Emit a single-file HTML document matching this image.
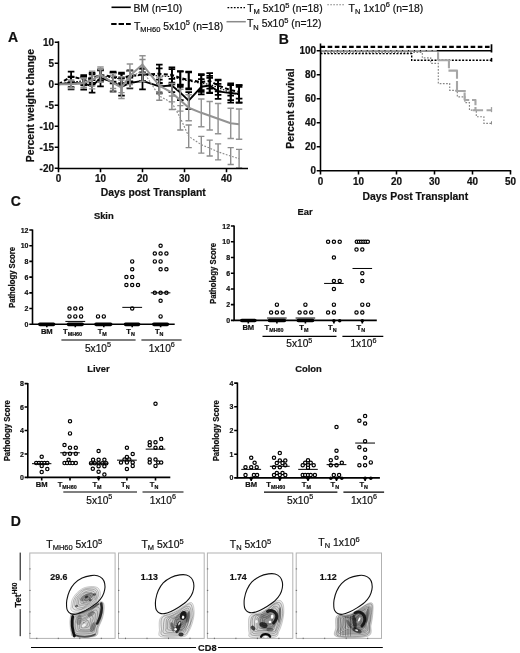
<!DOCTYPE html>
<html lang="en"><head><meta charset="utf-8"><title>Figure</title>
<style>html,body{margin:0;padding:0;background:#fff}body{width:520px;height:653px;overflow:hidden}svg{display:block;filter:blur(0.4px)}text{font-family:"Liberation Sans", Arial, sans-serif}</style>
</head><body>
<svg width="520" height="653" viewBox="0 0 520 653">
<defs><filter id="b1" x="-5%" y="-5%" width="110%" height="110%"><feGaussianBlur stdDeviation="0.35"/></filter><filter id="b2" x="-5%" y="-5%" width="110%" height="110%"><feGaussianBlur stdDeviation="0.7"/></filter></defs>
<rect width="520" height="653" fill="#fff"/>
<g id="legend">
<line x1="111.5" y1="7.3" x2="130.8" y2="7.3" stroke="#000" stroke-width="1.6"/>
<text x="0" y="0" font-size="10.4" text-anchor="start" fill="#111" stroke="#111" stroke-width="0.2" transform="translate(133.4 11.5) scale(1 1.06)" textLength="48.7" lengthAdjust="spacingAndGlyphs">BM (n=10)</text>
<line x1="111.2" y1="24" x2="130.8" y2="24" stroke="#000" stroke-width="2.2" stroke-dasharray="5.4 2"/>
<text x="0" y="0" font-size="10.4" text-anchor="start" fill="#111" stroke="#111" stroke-width="0.2" transform="translate(134 29.5) scale(1 1.06)">T<tspan font-size="7.5" dy="2">MH60</tspan><tspan dy="-2" font-size="0.1">&#8203;</tspan> 5x10<tspan font-size="7.5" dy="-4">5</tspan><tspan dy="4" font-size="0.1">&#8203;</tspan> (n=18)</text>
<line x1="227.5" y1="7.7" x2="245" y2="7.7" stroke="#000" stroke-width="1.3" stroke-dasharray="1.7 1.5"/>
<text x="0" y="0" font-size="10.4" text-anchor="start" fill="#111" stroke="#111" stroke-width="0.2" transform="translate(247.2 11.9) scale(1 1.06)">T<tspan font-size="7.5" dy="2">M</tspan><tspan dy="-2" font-size="0.1">&#8203;</tspan> 5x10<tspan font-size="7.5" dy="-4">5</tspan><tspan dy="4" font-size="0.1">&#8203;</tspan> (n=18)</text>
<line x1="226.5" y1="21.7" x2="245.8" y2="21.7" stroke="#8a8a8a" stroke-width="1.5"/>
<text x="0" y="0" font-size="10.4" text-anchor="start" fill="#111" stroke="#111" stroke-width="0.2" transform="translate(247 27.4) scale(1 1.06)">T<tspan font-size="7.5" dy="2">N</tspan><tspan dy="-2" font-size="0.1">&#8203;</tspan> 5x10<tspan font-size="7.5" dy="-4">5</tspan><tspan dy="4" font-size="0.1">&#8203;</tspan> (n=12)</text>
<line x1="327.3" y1="4.8" x2="344.4" y2="4.8" stroke="#858585" stroke-width="1.1" stroke-dasharray="1.6 1.4"/>
<text x="0" y="0" font-size="10.4" text-anchor="start" fill="#111" stroke="#111" stroke-width="0.2" transform="translate(348.6 11.7) scale(1 1.06)">T<tspan font-size="7.5" dy="2">N</tspan><tspan dy="-2" font-size="0.1">&#8203;</tspan> 1x10<tspan font-size="7.5" dy="-4">6</tspan><tspan dy="4" font-size="0.1">&#8203;</tspan> (n=18)</text>
</g>
<text x="0" y="0" font-size="14" font-weight="bold" text-anchor="start" fill="#111" stroke="#111" stroke-width="0.2" transform="translate(8 42.2) scale(1 1.06)">A</text>
<text x="0" y="0" font-size="14" font-weight="bold" text-anchor="start" fill="#111" stroke="#111" stroke-width="0.2" transform="translate(278.7 44.3) scale(1 1.06)">B</text>
<text x="0" y="0" font-size="14" font-weight="bold" text-anchor="start" fill="#111" stroke="#111" stroke-width="0.2" transform="translate(10.8 205.6) scale(1 1.06)">C</text>
<text x="0" y="0" font-size="14" font-weight="bold" text-anchor="start" fill="#111" stroke="#111" stroke-width="0.2" transform="translate(10.8 525.8) scale(1 1.06)">D</text>
<g id="panelA">
<path d="M58.5 84.25L71.1 82.99L83.7 83.41L92.1 86.35L100.5 77.95L113.1 82.15L121.5 86.77L129.9 82.99L142.5 80.89L159.3 86.35L171.9 85.51L180.3 92.65L188.7 100.63L201.3 86.77L209.7 85.51L218.1 91.39L230.7 93.07L239.1 93.91" stroke="#000" stroke-width="1.9" fill="none" stroke-linejoin="round"/>
<path d="M71.1 76.69V89.29M67.8 76.69H74.4M67.8 89.29H74.4M83.7 77.11V89.71M80.4 77.11H87M80.4 89.71H87M92.1 80.05V92.65M88.8 80.05H95.4M88.8 92.65H95.4M100.5 69.55V86.35M97.2 69.55H103.8M97.2 86.35H103.8M113.1 72.91V91.39M109.8 72.91H116.4M109.8 91.39H116.4M121.5 77.95V95.59M118.2 77.95H124.8M118.2 95.59H124.8M129.9 77.53V88.45M126.6 77.53H133.2M126.6 88.45H133.2M142.5 72.49V89.29M139.2 72.49H145.8M139.2 89.29H145.8M159.3 79.63V93.07M156 79.63H162.6M156 93.07H162.6M171.9 78.79V92.23M168.6 78.79H175.2M168.6 92.23H175.2M180.3 85.09V100.21M177 85.09H183.6M177 100.21H183.6M188.7 92.23V109.03M185.4 92.23H192M185.4 109.03H192M201.3 79.21V94.33M198 79.21H204.6M198 94.33H204.6M209.7 77.95V93.07M206.4 77.95H213M206.4 93.07H213M218.1 83.83V98.95M214.8 83.83H221.4M214.8 98.95H221.4M230.7 83.41V102.73M227.4 83.41H234M227.4 102.73H234M239.1 85.09V102.73M235.8 85.09H242.4M235.8 102.73H242.4" stroke="#000" stroke-width="1.75" fill="none"/>
<path d="M58.5 84.25L71.1 76.69L83.7 79.21L92.1 77.95L100.5 75.01L113.1 76.69L121.5 77.95L129.9 75.85L142.5 74.59L159.3 73.75L171.9 75.01L180.3 77.95L188.7 80.05L201.3 82.15L209.7 80.89L218.1 85.51L230.7 90.13L239.1 91.81" stroke="#000" stroke-width="2" fill="none" stroke-dasharray="4 2.4" stroke-linejoin="round"/>
<path d="M71.1 71.65V81.73M67.8 71.65H74.4M67.8 81.73H74.4M83.7 75.01V83.41M80.4 75.01H87M80.4 83.41H87M92.1 72.91V82.99M88.8 72.91H95.4M88.8 82.99H95.4M100.5 69.55V80.47M97.2 69.55H103.8M97.2 80.47H103.8M113.1 71.65V81.73M109.8 71.65H116.4M109.8 81.73H116.4M121.5 72.7V83.2M118.2 72.7H124.8M118.2 83.2H124.8M129.9 70.39V81.31M126.6 70.39H133.2M126.6 81.31H133.2M142.5 68.29V80.89M139.2 68.29H145.8M139.2 80.89H145.8M159.3 64.51V82.99M156 64.51H162.6M156 82.99H162.6M171.9 67.45V82.57M168.6 67.45H175.2M168.6 82.57H175.2M180.3 71.23V84.67M177 71.23H183.6M177 84.67H183.6M188.7 71.65V88.45M185.4 71.65H192M185.4 88.45H192M201.3 74.17V90.13M198 74.17H204.6M198 90.13H204.6M209.7 73.12V88.66M206.4 73.12H213M206.4 88.66H213M218.1 79.63V91.39M214.8 79.63H221.4M214.8 91.39H221.4M230.7 84.67V95.59M227.4 84.67H234M227.4 95.59H234M239.1 85.09V98.53M235.8 85.09H242.4M235.8 98.53H242.4" stroke="#000" stroke-width="1.75" fill="none"/>
<path d="M58.5 84.25L71.1 82.15L83.7 80.89L92.1 79.21L100.5 75.85L113.1 77.95L121.5 79.21L129.9 76.69L142.5 75.01L159.3 75.85L171.9 76.69L180.3 79.21L188.7 80.89L201.3 83.41L209.7 84.25L218.1 87.61L230.7 92.65L239.1 94.75" stroke="#000" stroke-width="1.1" fill="none" stroke-dasharray="1.6 1.4" stroke-linejoin="round"/>
<path d="M71.1 77.11V87.19M67.8 77.11H74.4M67.8 87.19H74.4M83.7 76.69V85.09M80.4 76.69H87M80.4 85.09H87M92.1 74.17V84.25M88.8 74.17H95.4M88.8 84.25H95.4M100.5 70.39V81.31M97.2 70.39H103.8M97.2 81.31H103.8M113.1 72.49V83.41M109.8 72.49H116.4M109.8 83.41H116.4M121.5 73.75V84.67M118.2 73.75H124.8M118.2 84.67H124.8M129.9 71.23V82.15M126.6 71.23H133.2M126.6 82.15H133.2M142.5 68.71V81.31M139.2 68.71H145.8M139.2 81.31H145.8M159.3 68.29V83.41M156 68.29H162.6M156 83.41H162.6M171.9 69.13V84.25M168.6 69.13H175.2M168.6 84.25H175.2M180.3 71.65V86.77M177 71.65H183.6M177 86.77H183.6M188.7 72.49V89.29M185.4 72.49H192M185.4 89.29H192M201.3 75.01V91.81M198 75.01H204.6M198 91.81H204.6M209.7 75.85V92.65M206.4 75.85H213M206.4 92.65H213M218.1 80.47V94.75M214.8 80.47H221.4M214.8 94.75H221.4M230.7 85.09V100.21M227.4 85.09H234M227.4 100.21H234M239.1 86.77V102.73M235.8 86.77H242.4M235.8 102.73H242.4" stroke="#000" stroke-width="1.75" fill="none"/>
<path d="M58.5 84.25L71.1 84.25L83.7 82.99L92.1 80.05L100.5 74.59L113.1 82.99L121.5 87.61L129.9 75.85L142.5 64.51L159.3 85.51L171.9 92.65L180.3 100.21L188.7 107.77L201.3 112.81L209.7 115.75L218.1 118.69L230.7 123.31L239.1 124.15" stroke="#939393" stroke-width="2" fill="none" stroke-linejoin="round"/>
<path d="M71.1 80.05V88.45M67.9 80.05H74.3M67.9 88.45H74.3M83.7 77.95V88.03M80.5 77.95H86.9M80.5 88.03H86.9M92.1 71.23V88.87M88.9 71.23H95.3M88.9 88.87H95.3M100.5 67.03V82.15M97.3 67.03H103.7M97.3 82.15H103.7M113.1 73.75V92.23M109.9 73.75H116.3M109.9 92.23H116.3M121.5 76.69V98.53M118.3 76.69H124.7M118.3 98.53H124.7M129.9 64.09V87.61M126.7 64.09H133.1M126.7 87.61H133.1M142.5 55.69V73.33M139.3 55.69H145.7M139.3 73.33H145.7M159.3 77.11V93.91M156.1 77.11H162.5M156.1 93.91H162.5M171.9 83.41V101.89M168.7 83.41H175.1M168.7 101.89H175.1M180.3 89.29V111.13M177.1 89.29H183.5M177.1 111.13H183.5M188.7 94.75V120.79M185.5 94.75H191.9M185.5 120.79H191.9M201.3 98.95V126.67M198.1 98.95H204.5M198.1 126.67H204.5M209.7 101.47V130.03M206.5 101.47H212.9M206.5 130.03H212.9M218.1 103.57V133.81M214.9 103.57H221.3M214.9 133.81H221.3M230.7 108.19V138.43M227.5 108.19H233.9M227.5 138.43H233.9M239.1 109.03V139.27M235.9 109.03H242.3M235.9 139.27H242.3" stroke="#939393" stroke-width="1.45" fill="none"/>
<path d="M58.5 84.25L71.1 84.25L83.7 82.99L92.1 80.89L100.5 75.85L113.1 82.15L121.5 86.35L129.9 77.95L142.5 70.39L159.3 96.01L171.9 102.73L180.3 117.85L188.7 136.33L201.3 144.73L209.7 148.09L218.1 151.87L230.7 156.07L239.1 158.59" stroke="#8c8c8c" stroke-width="1.15" fill="none" stroke-dasharray="1.8 1.5" stroke-linejoin="round"/>
<path d="M71.1 80.89V87.61M68 80.89H74.2M68 87.61H74.2M83.7 78.79V87.19M80.6 78.79H86.8M80.6 87.19H86.8M92.1 75.85V85.93M89 75.85H95.2M89 85.93H95.2M100.5 69.55V82.15M97.4 69.55H103.6M97.4 82.15H103.6M113.1 75.85V88.45M110 75.85H116.2M110 88.45H116.2M121.5 80.05V92.65M118.4 80.05H124.6M118.4 92.65H124.6M129.9 71.23V84.67M126.8 71.23H133M126.8 84.67H133M142.5 59.47V81.31M139.4 59.47H145.6M139.4 81.31H145.6M159.3 91.81V100.21M156.2 91.81H162.4M156.2 100.21H162.4M171.9 96.01V109.45M168.8 96.01H175M168.8 109.45H175M180.3 105.67V130.03M177.2 105.67H183.4M177.2 130.03H183.4M188.7 124.99V147.67M185.6 124.99H191.8M185.6 147.67H191.8M201.3 136.33V153.13M198.2 136.33H204.4M198.2 153.13H204.4M209.7 140.11V156.07M206.6 140.11H212.8M206.6 156.07H212.8M218.1 143.89V159.85M215 143.89H221.2M215 159.85H221.2M230.7 147.67V164.47M227.6 147.67H233.8M227.6 164.47H233.8M239.1 149.35V167.83M236 149.35H242.2M236 167.83H242.2" stroke="#8c8c8c" stroke-width="1.4" fill="none"/>
<path d="M58.5 41.3V168.5H248" stroke="#000" stroke-width="1.55" fill="none"/>
<path d="M58.5 42.25H54.7M58.5 63.25H54.7M58.5 84.25H54.7M58.5 105.25H54.7M58.5 126.25H54.7M58.5 147.25H54.7M58.5 168.25H54.7M58.5 168.5V172.3M100.5 168.5V172.3M142.5 168.5V172.3M184.5 168.5V172.3M226.5 168.5V172.3" stroke="#000" stroke-width="1.55" fill="none"/>
<text x="0" y="0" font-size="9.9" font-weight="bold" text-anchor="end" fill="#111" stroke="#111" stroke-width="0.2" transform="translate(53.9 45.85) scale(1 1.06)">10</text>
<text x="0" y="0" font-size="9.9" font-weight="bold" text-anchor="end" fill="#111" stroke="#111" stroke-width="0.2" transform="translate(53.9 66.85) scale(1 1.06)">5</text>
<text x="0" y="0" font-size="9.9" font-weight="bold" text-anchor="end" fill="#111" stroke="#111" stroke-width="0.2" transform="translate(53.9 87.85) scale(1 1.06)">0</text>
<text x="0" y="0" font-size="9.9" font-weight="bold" text-anchor="end" fill="#111" stroke="#111" stroke-width="0.2" transform="translate(53.9 108.85) scale(1 1.06)">-5</text>
<text x="0" y="0" font-size="9.9" font-weight="bold" text-anchor="end" fill="#111" stroke="#111" stroke-width="0.2" transform="translate(53.9 129.85) scale(1 1.06)">-10</text>
<text x="0" y="0" font-size="9.9" font-weight="bold" text-anchor="end" fill="#111" stroke="#111" stroke-width="0.2" transform="translate(53.9 150.85) scale(1 1.06)">-15</text>
<text x="0" y="0" font-size="9.9" font-weight="bold" text-anchor="end" fill="#111" stroke="#111" stroke-width="0.2" transform="translate(53.9 171.85) scale(1 1.06)">-20</text>
<text x="0" y="0" font-size="9.9" font-weight="bold" text-anchor="middle" fill="#111" stroke="#111" stroke-width="0.2" transform="translate(58.5 182.1) scale(1 1.06)">0</text>
<text x="0" y="0" font-size="9.9" font-weight="bold" text-anchor="middle" fill="#111" stroke="#111" stroke-width="0.2" transform="translate(100.5 182.1) scale(1 1.06)">10</text>
<text x="0" y="0" font-size="9.9" font-weight="bold" text-anchor="middle" fill="#111" stroke="#111" stroke-width="0.2" transform="translate(142.5 182.1) scale(1 1.06)">20</text>
<text x="0" y="0" font-size="9.9" font-weight="bold" text-anchor="middle" fill="#111" stroke="#111" stroke-width="0.2" transform="translate(184.5 182.1) scale(1 1.06)">30</text>
<text x="0" y="0" font-size="9.9" font-weight="bold" text-anchor="middle" fill="#111" stroke="#111" stroke-width="0.2" transform="translate(226.5 182.1) scale(1 1.06)">40</text>
<text x="0" y="0" font-size="10.4" font-weight="bold" text-anchor="middle" fill="#111" stroke="#111" stroke-width="0.2" transform="translate(153.2 195.7) scale(1 1.06)">Days post Transplant</text>
<text x="0" y="0" font-size="10.4" font-weight="bold" text-anchor="middle" fill="#111" stroke="#111" stroke-width="0.2" transform="translate(34 105.6) rotate(-90) scale(1 1.06)">Percent weight change</text>
</g>
<g id="panelB">
<path d="M320.5 52.38H422.34V57.9H430.7V63.3H438.3V83.58H449.7V90.3H457.3V96.9H464.9V102.66H469.46V110.1H476.3V116.7H483.9V123.42H491.5V123.42" stroke="#858585" stroke-width="1.15" fill="none" stroke-dasharray="1.7 1.5"/>
<path d="M491.5 121.22V124.42" stroke="#8c8c8c" stroke-width="1" fill="none"/>
<path d="M320.5 53.58H411.7V60.3H491.5V60.3" stroke="#000" stroke-width="1.4" fill="none" stroke-dasharray="2 1.45"/>
<path d="M491.5 57.9V61.7" stroke="#000" stroke-width="1.6" fill="none"/>
<path d="M320.5 50.7H491.5V50.7" stroke="#000" stroke-width="1.5" fill="none"/>
<path d="M320.5 50.7H436.78V50.7" stroke="#a2a2a2" stroke-width="1.5" fill="none" stroke-dasharray="5 0.9"/>
<path d="M438.08 52.16L438.08 60.23M437.62 60.23L448.47 60.23M448.93 59.77L448.93 68.31M448.47 70.62L457.7 70.62M457 70.16L457 78.7M457 81L457 91.39M455.39 90.93L465.77 90.93M464.62 92.54L464.62 100.16M464.16 99.93L469.24 99.93M472.01 99.93L476.16 99.93M475.47 99.47L475.47 105.24M475.47 107.08L475.47 110.77M472.7 110.31L483.08 110.31M486.55 110.31L491.39 110.31" stroke="#a6a6a6" stroke-width="2.1" fill="none"/>
<path d="M491.5 107.08V112.16" stroke="#a0a0a0" stroke-width="1.3" fill="none"/>
<path d="M320.5 46.86H491.5V46.86" stroke="#000" stroke-width="2.3" fill="none" stroke-dasharray="4.6 2.55"/>
<path d="M491.5 44.26V52.5" stroke="#000" stroke-width="1.7" fill="none"/>
<path d="M320.5 43.6V170.7H511.2" stroke="#000" stroke-width="1.55" fill="none"/>
<path d="M320.5 170.7H316.7M320.5 146.7H316.7M320.5 122.7H316.7M320.5 98.7H316.7M320.5 74.7H316.7M320.5 50.7H316.7M320.5 170.7V174.5M358.5 170.7V174.5M396.5 170.7V174.5M434.5 170.7V174.5M472.5 170.7V174.5M510.5 170.7V174.5" stroke="#000" stroke-width="1.55" fill="none"/>
<text x="0" y="0" font-size="9.9" font-weight="bold" text-anchor="end" fill="#111" stroke="#111" stroke-width="0.2" transform="translate(315.9 174.3) scale(1 1.06)">0</text>
<text x="0" y="0" font-size="9.9" font-weight="bold" text-anchor="end" fill="#111" stroke="#111" stroke-width="0.2" transform="translate(315.9 150.3) scale(1 1.06)">20</text>
<text x="0" y="0" font-size="9.9" font-weight="bold" text-anchor="end" fill="#111" stroke="#111" stroke-width="0.2" transform="translate(315.9 126.3) scale(1 1.06)">40</text>
<text x="0" y="0" font-size="9.9" font-weight="bold" text-anchor="end" fill="#111" stroke="#111" stroke-width="0.2" transform="translate(315.9 102.3) scale(1 1.06)">60</text>
<text x="0" y="0" font-size="9.9" font-weight="bold" text-anchor="end" fill="#111" stroke="#111" stroke-width="0.2" transform="translate(315.9 78.3) scale(1 1.06)">80</text>
<text x="0" y="0" font-size="9.9" font-weight="bold" text-anchor="end" fill="#111" stroke="#111" stroke-width="0.2" transform="translate(315.9 54.3) scale(1 1.06)">100</text>
<text x="0" y="0" font-size="9.9" font-weight="bold" text-anchor="middle" fill="#111" stroke="#111" stroke-width="0.2" transform="translate(320.5 184.6) scale(1 1.06)">0</text>
<text x="0" y="0" font-size="9.9" font-weight="bold" text-anchor="middle" fill="#111" stroke="#111" stroke-width="0.2" transform="translate(358.5 184.6) scale(1 1.06)">10</text>
<text x="0" y="0" font-size="9.9" font-weight="bold" text-anchor="middle" fill="#111" stroke="#111" stroke-width="0.2" transform="translate(396.5 184.6) scale(1 1.06)">20</text>
<text x="0" y="0" font-size="9.9" font-weight="bold" text-anchor="middle" fill="#111" stroke="#111" stroke-width="0.2" transform="translate(434.5 184.6) scale(1 1.06)">30</text>
<text x="0" y="0" font-size="9.9" font-weight="bold" text-anchor="middle" fill="#111" stroke="#111" stroke-width="0.2" transform="translate(472.5 184.6) scale(1 1.06)">40</text>
<text x="0" y="0" font-size="9.9" font-weight="bold" text-anchor="middle" fill="#111" stroke="#111" stroke-width="0.2" transform="translate(510.5 184.6) scale(1 1.06)">50</text>
<text x="0" y="0" font-size="10.4" font-weight="bold" text-anchor="middle" fill="#111" stroke="#111" stroke-width="0.2" transform="translate(415.3 199.7) scale(1 1.06)">Days Post Transplant</text>
<text x="0" y="0" font-size="10.4" font-weight="bold" text-anchor="middle" fill="#111" stroke="#111" stroke-width="0.2" transform="translate(294.4 108.6) rotate(-90) scale(1 1.06)">Percent survival</text>
</g>
<g id="skin">
<text x="0" y="0" font-size="9.4" font-weight="bold" text-anchor="middle" fill="#111" stroke="#111" stroke-width="0.2" transform="translate(103.8 218.7) scale(1 1.06)">Skin</text>
<circle cx="69.5" cy="316.4" r="1.65" fill="#fff" stroke="#000" stroke-width="1.2"/>
<circle cx="75.3" cy="316.4" r="1.65" fill="#fff" stroke="#000" stroke-width="1.2"/>
<circle cx="81.1" cy="316.4" r="1.65" fill="#fff" stroke="#000" stroke-width="1.2"/>
<circle cx="69.5" cy="308.54" r="1.65" fill="#fff" stroke="#000" stroke-width="1.2"/>
<circle cx="75.3" cy="308.54" r="1.65" fill="#fff" stroke="#000" stroke-width="1.2"/>
<circle cx="81.1" cy="308.54" r="1.65" fill="#fff" stroke="#000" stroke-width="1.2"/>
<circle cx="98" cy="316.4" r="1.65" fill="#fff" stroke="#000" stroke-width="1.2"/>
<circle cx="103.8" cy="316.4" r="1.65" fill="#fff" stroke="#000" stroke-width="1.2"/>
<circle cx="132.2" cy="308.54" r="1.65" fill="#fff" stroke="#000" stroke-width="1.2"/>
<circle cx="126.4" cy="284.98" r="1.65" fill="#fff" stroke="#000" stroke-width="1.2"/>
<circle cx="132.2" cy="284.98" r="1.65" fill="#fff" stroke="#000" stroke-width="1.2"/>
<circle cx="138" cy="284.98" r="1.65" fill="#fff" stroke="#000" stroke-width="1.2"/>
<circle cx="126.4" cy="277.12" r="1.65" fill="#fff" stroke="#000" stroke-width="1.2"/>
<circle cx="132.2" cy="277.12" r="1.65" fill="#fff" stroke="#000" stroke-width="1.2"/>
<circle cx="132.2" cy="269.27" r="1.65" fill="#fff" stroke="#000" stroke-width="1.2"/>
<circle cx="132.2" cy="261.42" r="1.65" fill="#fff" stroke="#000" stroke-width="1.2"/>
<circle cx="160.6" cy="316.4" r="1.65" fill="#fff" stroke="#000" stroke-width="1.2"/>
<circle cx="160.6" cy="300.69" r="1.65" fill="#fff" stroke="#000" stroke-width="1.2"/>
<circle cx="154.8" cy="292.83" r="1.65" fill="#fff" stroke="#000" stroke-width="1.2"/>
<circle cx="160.6" cy="292.83" r="1.65" fill="#fff" stroke="#000" stroke-width="1.2"/>
<circle cx="166.4" cy="292.83" r="1.65" fill="#fff" stroke="#000" stroke-width="1.2"/>
<circle cx="160.6" cy="269.27" r="1.65" fill="#fff" stroke="#000" stroke-width="1.2"/>
<circle cx="166.4" cy="269.27" r="1.65" fill="#fff" stroke="#000" stroke-width="1.2"/>
<circle cx="154.8" cy="261.42" r="1.65" fill="#fff" stroke="#000" stroke-width="1.2"/>
<circle cx="160.6" cy="261.42" r="1.65" fill="#fff" stroke="#000" stroke-width="1.2"/>
<circle cx="154.8" cy="253.56" r="1.65" fill="#fff" stroke="#000" stroke-width="1.2"/>
<circle cx="160.6" cy="253.56" r="1.65" fill="#fff" stroke="#000" stroke-width="1.2"/>
<circle cx="166.4" cy="253.56" r="1.65" fill="#fff" stroke="#000" stroke-width="1.2"/>
<circle cx="160.6" cy="245.71" r="1.65" fill="#fff" stroke="#000" stroke-width="1.2"/>
<line x1="65.4" y1="321.42" x2="85.2" y2="321.42" stroke="#000" stroke-width="1"/>
<line x1="122.3" y1="307.36" x2="142.1" y2="307.36" stroke="#000" stroke-width="1"/>
<line x1="150.8" y1="292.83" x2="170.4" y2="292.83" stroke="#000" stroke-width="1"/>
<path d="M32.5 229.4V324.25H174.7" stroke="#000" stroke-width="1.6" fill="none"/>
<text x="0" y="0" font-size="7" font-weight="bold" text-anchor="end" fill="#111" stroke="#111" stroke-width="0.2" transform="translate(28.5 326.8) scale(1 1.06)">0</text>
<text x="0" y="0" font-size="7" font-weight="bold" text-anchor="end" fill="#111" stroke="#111" stroke-width="0.2" transform="translate(28.5 311.09) scale(1 1.06)">2</text>
<text x="0" y="0" font-size="7" font-weight="bold" text-anchor="end" fill="#111" stroke="#111" stroke-width="0.2" transform="translate(28.5 295.38) scale(1 1.06)">4</text>
<text x="0" y="0" font-size="7" font-weight="bold" text-anchor="end" fill="#111" stroke="#111" stroke-width="0.2" transform="translate(28.5 279.68) scale(1 1.06)">6</text>
<text x="0" y="0" font-size="7" font-weight="bold" text-anchor="end" fill="#111" stroke="#111" stroke-width="0.2" transform="translate(28.5 263.97) scale(1 1.06)">8</text>
<text x="0" y="0" font-size="7" font-weight="bold" text-anchor="end" fill="#111" stroke="#111" stroke-width="0.2" transform="translate(28.5 248.26) scale(1 1.06)">10</text>
<text x="0" y="0" font-size="7" font-weight="bold" text-anchor="end" fill="#111" stroke="#111" stroke-width="0.2" transform="translate(28.5 232.55) scale(1 1.06)">12</text>
<path d="M32.5 324.25H29.3M32.5 308.54H29.3M32.5 292.83H29.3M32.5 277.12H29.3M32.5 261.42H29.3M32.5 245.71H29.3M32.5 230H29.3M46.8 324.25V327.25M75.3 324.25V327.25M103.8 324.25V327.25M132.2 324.25V327.25M160.6 324.25V327.25" stroke="#000" stroke-width="1.6" fill="none"/>
<line x1="39.8" y1="324.35" x2="53.6" y2="324.35" stroke="#000" stroke-width="3.6" stroke-linecap="round"/>
<line x1="68.4" y1="324.35" x2="82.2" y2="324.35" stroke="#000" stroke-width="3.6" stroke-linecap="round"/>
<line x1="96" y1="324.35" x2="110.7" y2="324.35" stroke="#000" stroke-width="3.6" stroke-linecap="round"/>
<line x1="125.5" y1="324.35" x2="138.6" y2="324.35" stroke="#000" stroke-width="3.6" stroke-linecap="round"/>
<line x1="153.8" y1="324.35" x2="167.4" y2="324.35" stroke="#000" stroke-width="3.6" stroke-linecap="round"/>
<text x="0" y="0" font-size="7.6" font-weight="bold" text-anchor="middle" fill="#111" stroke="#111" stroke-width="0.2" transform="translate(46.8 334.4) scale(1 1.06)">BM</text>
<text x="0" y="0" font-size="7.6" font-weight="bold" text-anchor="middle" fill="#111" stroke="#111" stroke-width="0.2" transform="translate(72.5 334.4) scale(1 1.06)">T<tspan font-size="5.4" dy="1.8">MH60</tspan><tspan dy="-1.8" font-size="0.1">&#8203;</tspan></text>
<text x="0" y="0" font-size="7.6" font-weight="bold" text-anchor="middle" fill="#111" stroke="#111" stroke-width="0.2" transform="translate(102.2 334.4) scale(1 1.06)">T<tspan font-size="5.4" dy="1.8">M</tspan><tspan dy="-1.8" font-size="0.1">&#8203;</tspan></text>
<text x="0" y="0" font-size="7.6" font-weight="bold" text-anchor="middle" fill="#111" stroke="#111" stroke-width="0.2" transform="translate(130.6 334.4) scale(1 1.06)">T<tspan font-size="5.4" dy="1.8">N</tspan><tspan dy="-1.8" font-size="0.1">&#8203;</tspan></text>
<text x="0" y="0" font-size="7.6" font-weight="bold" text-anchor="middle" fill="#111" stroke="#111" stroke-width="0.2" transform="translate(159.2 334.4) scale(1 1.06)">T<tspan font-size="5.4" dy="1.8">N</tspan><tspan dy="-1.8" font-size="0.1">&#8203;</tspan></text>
<line x1="61.4" y1="340" x2="135.6" y2="340" stroke="#000" stroke-width="1.2"/>
<line x1="141.4" y1="340" x2="181.6" y2="340" stroke="#000" stroke-width="1.2"/>
<text x="0" y="0" font-size="10.2" text-anchor="middle" fill="#111" stroke="#111" stroke-width="0.2" transform="translate(98 351.6) scale(1 1.06)">5x10<tspan font-size="7.2" dy="-4">5</tspan><tspan dy="4" font-size="0.1">&#8203;</tspan></text>
<text x="0" y="0" font-size="10.2" text-anchor="middle" fill="#111" stroke="#111" stroke-width="0.2" transform="translate(161.8 351.6) scale(1 1.06)">1x10<tspan font-size="7.2" dy="-4">6</tspan><tspan dy="4" font-size="0.1">&#8203;</tspan></text>
<text x="0" y="0" font-size="7.75" font-weight="bold" text-anchor="middle" fill="#111" stroke="#111" stroke-width="0.2" transform="translate(15.1 277.43) rotate(-90) scale(1 1.06)">Pathology Score</text>
</g>
<g id="ear">
<text x="0" y="0" font-size="9.4" font-weight="bold" text-anchor="middle" fill="#111" stroke="#111" stroke-width="0.2" transform="translate(305 214.7) scale(1 1.06)">Ear</text>
<circle cx="271.1" cy="312.53" r="1.65" fill="#fff" stroke="#000" stroke-width="1.2"/>
<circle cx="276.9" cy="312.53" r="1.65" fill="#fff" stroke="#000" stroke-width="1.2"/>
<circle cx="282.7" cy="312.53" r="1.65" fill="#fff" stroke="#000" stroke-width="1.2"/>
<circle cx="276.9" cy="304.67" r="1.65" fill="#fff" stroke="#000" stroke-width="1.2"/>
<circle cx="299.6" cy="312.53" r="1.65" fill="#fff" stroke="#000" stroke-width="1.2"/>
<circle cx="305.4" cy="312.53" r="1.65" fill="#fff" stroke="#000" stroke-width="1.2"/>
<circle cx="311.2" cy="312.53" r="1.65" fill="#fff" stroke="#000" stroke-width="1.2"/>
<circle cx="305.4" cy="304.67" r="1.65" fill="#fff" stroke="#000" stroke-width="1.2"/>
<circle cx="328.1" cy="312.53" r="1.65" fill="#fff" stroke="#000" stroke-width="1.2"/>
<circle cx="333.9" cy="312.53" r="1.65" fill="#fff" stroke="#000" stroke-width="1.2"/>
<circle cx="333.9" cy="304.67" r="1.65" fill="#fff" stroke="#000" stroke-width="1.2"/>
<circle cx="333.9" cy="288.93" r="1.65" fill="#fff" stroke="#000" stroke-width="1.2"/>
<circle cx="333.9" cy="281.07" r="1.65" fill="#fff" stroke="#000" stroke-width="1.2"/>
<circle cx="339.7" cy="281.07" r="1.65" fill="#fff" stroke="#000" stroke-width="1.2"/>
<circle cx="333.9" cy="257.47" r="1.65" fill="#fff" stroke="#000" stroke-width="1.2"/>
<circle cx="328.1" cy="241.73" r="1.65" fill="#fff" stroke="#000" stroke-width="1.2"/>
<circle cx="333.9" cy="241.73" r="1.65" fill="#fff" stroke="#000" stroke-width="1.2"/>
<circle cx="339.7" cy="241.73" r="1.65" fill="#fff" stroke="#000" stroke-width="1.2"/>
<circle cx="356.5" cy="312.53" r="1.65" fill="#fff" stroke="#000" stroke-width="1.2"/>
<circle cx="362.3" cy="312.53" r="1.65" fill="#fff" stroke="#000" stroke-width="1.2"/>
<circle cx="362.3" cy="304.67" r="1.65" fill="#fff" stroke="#000" stroke-width="1.2"/>
<circle cx="368.1" cy="304.67" r="1.65" fill="#fff" stroke="#000" stroke-width="1.2"/>
<circle cx="362.3" cy="281.07" r="1.65" fill="#fff" stroke="#000" stroke-width="1.2"/>
<circle cx="362.3" cy="273.2" r="1.65" fill="#fff" stroke="#000" stroke-width="1.2"/>
<circle cx="356.5" cy="249.6" r="1.65" fill="#fff" stroke="#000" stroke-width="1.2"/>
<circle cx="362.3" cy="249.6" r="1.65" fill="#fff" stroke="#000" stroke-width="1.2"/>
<circle cx="356.8" cy="241.73" r="1.65" fill="#fff" stroke="#000" stroke-width="1.2"/>
<circle cx="359" cy="241.73" r="1.65" fill="#fff" stroke="#000" stroke-width="1.2"/>
<circle cx="361.2" cy="241.73" r="1.65" fill="#fff" stroke="#000" stroke-width="1.2"/>
<circle cx="363.4" cy="241.73" r="1.65" fill="#fff" stroke="#000" stroke-width="1.2"/>
<circle cx="365.6" cy="241.73" r="1.65" fill="#fff" stroke="#000" stroke-width="1.2"/>
<circle cx="367.8" cy="241.73" r="1.65" fill="#fff" stroke="#000" stroke-width="1.2"/>
<line x1="267.1" y1="318.04" x2="286.7" y2="318.04" stroke="#000" stroke-width="1"/>
<line x1="295.6" y1="318.04" x2="315.2" y2="318.04" stroke="#000" stroke-width="1"/>
<line x1="324.1" y1="283.43" x2="343.7" y2="283.43" stroke="#000" stroke-width="1"/>
<line x1="352.5" y1="268.48" x2="372.1" y2="268.48" stroke="#000" stroke-width="1"/>
<path d="M234.1 225.4V320.4H376.8" stroke="#000" stroke-width="1.6" fill="none"/>
<text x="0" y="0" font-size="7" font-weight="bold" text-anchor="end" fill="#111" stroke="#111" stroke-width="0.2" transform="translate(230.1 322.95) scale(1 1.06)">0</text>
<text x="0" y="0" font-size="7" font-weight="bold" text-anchor="end" fill="#111" stroke="#111" stroke-width="0.2" transform="translate(230.1 307.22) scale(1 1.06)">2</text>
<text x="0" y="0" font-size="7" font-weight="bold" text-anchor="end" fill="#111" stroke="#111" stroke-width="0.2" transform="translate(230.1 291.48) scale(1 1.06)">4</text>
<text x="0" y="0" font-size="7" font-weight="bold" text-anchor="end" fill="#111" stroke="#111" stroke-width="0.2" transform="translate(230.1 275.75) scale(1 1.06)">6</text>
<text x="0" y="0" font-size="7" font-weight="bold" text-anchor="end" fill="#111" stroke="#111" stroke-width="0.2" transform="translate(230.1 260.02) scale(1 1.06)">8</text>
<text x="0" y="0" font-size="7" font-weight="bold" text-anchor="end" fill="#111" stroke="#111" stroke-width="0.2" transform="translate(230.1 244.28) scale(1 1.06)">10</text>
<text x="0" y="0" font-size="7" font-weight="bold" text-anchor="end" fill="#111" stroke="#111" stroke-width="0.2" transform="translate(230.1 228.55) scale(1 1.06)">12</text>
<path d="M234.1 320.4H230.9M234.1 304.67H230.9M234.1 288.93H230.9M234.1 273.2H230.9M234.1 257.47H230.9M234.1 241.73H230.9M234.1 226H230.9M248.3 320.4V323.4M276.9 320.4V323.4M305.4 320.4V323.4M333.9 320.4V323.4M362.3 320.4V323.4" stroke="#000" stroke-width="1.6" fill="none"/>
<line x1="241.8" y1="320.5" x2="254.9" y2="320.5" stroke="#000" stroke-width="3.6" stroke-linecap="round"/>
<line x1="269.5" y1="320.5" x2="284.4" y2="320.5" stroke="#000" stroke-width="3.6" stroke-linecap="round"/>
<line x1="298.3" y1="320.5" x2="312.6" y2="320.5" stroke="#000" stroke-width="3.6" stroke-linecap="round"/>
<circle cx="333.9" cy="320.7" r="1.75" fill="#000"/>
<circle cx="339.7" cy="320.7" r="1.75" fill="#000"/>
<circle cx="362.3" cy="320.7" r="1.75" fill="#000"/>
<text x="0" y="0" font-size="7.6" font-weight="bold" text-anchor="middle" fill="#111" stroke="#111" stroke-width="0.2" transform="translate(248.3 330.4) scale(1 1.06)">BM</text>
<text x="0" y="0" font-size="7.6" font-weight="bold" text-anchor="middle" fill="#111" stroke="#111" stroke-width="0.2" transform="translate(274.1 330.4) scale(1 1.06)">T<tspan font-size="5.4" dy="1.8">MH60</tspan><tspan dy="-1.8" font-size="0.1">&#8203;</tspan></text>
<text x="0" y="0" font-size="7.6" font-weight="bold" text-anchor="middle" fill="#111" stroke="#111" stroke-width="0.2" transform="translate(303.8 330.4) scale(1 1.06)">T<tspan font-size="5.4" dy="1.8">M</tspan><tspan dy="-1.8" font-size="0.1">&#8203;</tspan></text>
<text x="0" y="0" font-size="7.6" font-weight="bold" text-anchor="middle" fill="#111" stroke="#111" stroke-width="0.2" transform="translate(332.3 330.4) scale(1 1.06)">T<tspan font-size="5.4" dy="1.8">N</tspan><tspan dy="-1.8" font-size="0.1">&#8203;</tspan></text>
<text x="0" y="0" font-size="7.6" font-weight="bold" text-anchor="middle" fill="#111" stroke="#111" stroke-width="0.2" transform="translate(360.9 330.4) scale(1 1.06)">T<tspan font-size="5.4" dy="1.8">N</tspan><tspan dy="-1.8" font-size="0.1">&#8203;</tspan></text>
<line x1="262.5" y1="336.3" x2="336.5" y2="336.3" stroke="#000" stroke-width="1.2"/>
<line x1="342.4" y1="336.3" x2="383.3" y2="336.3" stroke="#000" stroke-width="1.2"/>
<text x="0" y="0" font-size="10.2" text-anchor="middle" fill="#111" stroke="#111" stroke-width="0.2" transform="translate(299.3 347.4) scale(1 1.06)">5x10<tspan font-size="7.2" dy="-4">5</tspan><tspan dy="4" font-size="0.1">&#8203;</tspan></text>
<text x="0" y="0" font-size="10.2" text-anchor="middle" fill="#111" stroke="#111" stroke-width="0.2" transform="translate(363.5 347.4) scale(1 1.06)">1x10<tspan font-size="7.2" dy="-4">6</tspan><tspan dy="4" font-size="0.1">&#8203;</tspan></text>
<text x="0" y="0" font-size="7.75" font-weight="bold" text-anchor="middle" fill="#111" stroke="#111" stroke-width="0.2" transform="translate(216.4 273.5) rotate(-90) scale(1 1.06)">Pathology Score</text>
</g>
<g id="liver">
<text x="0" y="0" font-size="9.4" font-weight="bold" text-anchor="middle" fill="#111" stroke="#111" stroke-width="0.2" transform="translate(98.5 372.3) scale(1 1.06)">Liver</text>
<circle cx="41.7" cy="456.71" r="1.65" fill="#fff" stroke="#000" stroke-width="1.2"/>
<circle cx="36.2" cy="463.11" r="1.65" fill="#fff" stroke="#000" stroke-width="1.2"/>
<circle cx="39" cy="463.11" r="1.65" fill="#fff" stroke="#000" stroke-width="1.2"/>
<circle cx="41.7" cy="463.11" r="1.65" fill="#fff" stroke="#000" stroke-width="1.2"/>
<circle cx="44.5" cy="463.11" r="1.65" fill="#fff" stroke="#000" stroke-width="1.2"/>
<circle cx="47.3" cy="463.11" r="1.65" fill="#fff" stroke="#000" stroke-width="1.2"/>
<circle cx="41.7" cy="466" r="1.65" fill="#fff" stroke="#000" stroke-width="1.2"/>
<circle cx="47.3" cy="469.1" r="1.65" fill="#fff" stroke="#000" stroke-width="1.2"/>
<circle cx="41.7" cy="472.1" r="1.65" fill="#fff" stroke="#000" stroke-width="1.2"/>
<circle cx="70" cy="421.32" r="1.65" fill="#fff" stroke="#000" stroke-width="1.2"/>
<circle cx="70" cy="433.42" r="1.65" fill="#fff" stroke="#000" stroke-width="1.2"/>
<circle cx="64.5" cy="445.01" r="1.65" fill="#fff" stroke="#000" stroke-width="1.2"/>
<circle cx="70" cy="447.81" r="1.65" fill="#fff" stroke="#000" stroke-width="1.2"/>
<circle cx="75.8" cy="447.81" r="1.65" fill="#fff" stroke="#000" stroke-width="1.2"/>
<circle cx="64.5" cy="453.81" r="1.65" fill="#fff" stroke="#000" stroke-width="1.2"/>
<circle cx="70" cy="453.81" r="1.65" fill="#fff" stroke="#000" stroke-width="1.2"/>
<circle cx="75.8" cy="453.81" r="1.65" fill="#fff" stroke="#000" stroke-width="1.2"/>
<circle cx="68.6" cy="459.81" r="1.65" fill="#fff" stroke="#000" stroke-width="1.2"/>
<circle cx="64.5" cy="463.11" r="1.65" fill="#fff" stroke="#000" stroke-width="1.2"/>
<circle cx="67.1" cy="463.11" r="1.65" fill="#fff" stroke="#000" stroke-width="1.2"/>
<circle cx="70" cy="463.11" r="1.65" fill="#fff" stroke="#000" stroke-width="1.2"/>
<circle cx="72.5" cy="463.11" r="1.65" fill="#fff" stroke="#000" stroke-width="1.2"/>
<circle cx="75.8" cy="463.11" r="1.65" fill="#fff" stroke="#000" stroke-width="1.2"/>
<circle cx="98.6" cy="451.01" r="1.65" fill="#fff" stroke="#000" stroke-width="1.2"/>
<circle cx="93.1" cy="459.81" r="1.65" fill="#fff" stroke="#000" stroke-width="1.2"/>
<circle cx="98.6" cy="459.81" r="1.65" fill="#fff" stroke="#000" stroke-width="1.2"/>
<circle cx="104.4" cy="459.81" r="1.65" fill="#fff" stroke="#000" stroke-width="1.2"/>
<circle cx="91" cy="463.31" r="1.65" fill="#fff" stroke="#000" stroke-width="1.2"/>
<circle cx="94.8" cy="463.31" r="1.65" fill="#fff" stroke="#000" stroke-width="1.2"/>
<circle cx="98.6" cy="463.31" r="1.65" fill="#fff" stroke="#000" stroke-width="1.2"/>
<circle cx="102.3" cy="463.31" r="1.65" fill="#fff" stroke="#000" stroke-width="1.2"/>
<circle cx="106.3" cy="463.31" r="1.65" fill="#fff" stroke="#000" stroke-width="1.2"/>
<circle cx="98.6" cy="466.3" r="1.65" fill="#fff" stroke="#000" stroke-width="1.2"/>
<circle cx="104.4" cy="466.3" r="1.65" fill="#fff" stroke="#000" stroke-width="1.2"/>
<circle cx="92.8" cy="468.8" r="1.65" fill="#fff" stroke="#000" stroke-width="1.2"/>
<circle cx="98.6" cy="471.7" r="1.65" fill="#fff" stroke="#000" stroke-width="1.2"/>
<circle cx="104.4" cy="474.6" r="1.65" fill="#fff" stroke="#000" stroke-width="1.2"/>
<circle cx="126.9" cy="447.81" r="1.65" fill="#fff" stroke="#000" stroke-width="1.2"/>
<circle cx="132.7" cy="454.01" r="1.65" fill="#fff" stroke="#000" stroke-width="1.2"/>
<circle cx="126.9" cy="457.01" r="1.65" fill="#fff" stroke="#000" stroke-width="1.2"/>
<circle cx="124.5" cy="459.51" r="1.65" fill="#fff" stroke="#000" stroke-width="1.2"/>
<circle cx="129.3" cy="459.51" r="1.65" fill="#fff" stroke="#000" stroke-width="1.2"/>
<circle cx="121" cy="462.51" r="1.65" fill="#fff" stroke="#000" stroke-width="1.2"/>
<circle cx="126.9" cy="462.51" r="1.65" fill="#fff" stroke="#000" stroke-width="1.2"/>
<circle cx="132.7" cy="462.51" r="1.65" fill="#fff" stroke="#000" stroke-width="1.2"/>
<circle cx="132.7" cy="465.9" r="1.65" fill="#fff" stroke="#000" stroke-width="1.2"/>
<circle cx="126.9" cy="469" r="1.65" fill="#fff" stroke="#000" stroke-width="1.2"/>
<circle cx="155.5" cy="403.73" r="1.65" fill="#fff" stroke="#000" stroke-width="1.2"/>
<circle cx="161.2" cy="439.12" r="1.65" fill="#fff" stroke="#000" stroke-width="1.2"/>
<circle cx="149.7" cy="442.22" r="1.65" fill="#fff" stroke="#000" stroke-width="1.2"/>
<circle cx="155.5" cy="442.22" r="1.65" fill="#fff" stroke="#000" stroke-width="1.2"/>
<circle cx="149.7" cy="445.31" r="1.65" fill="#fff" stroke="#000" stroke-width="1.2"/>
<circle cx="155.5" cy="447.81" r="1.65" fill="#fff" stroke="#000" stroke-width="1.2"/>
<circle cx="161.2" cy="447.81" r="1.65" fill="#fff" stroke="#000" stroke-width="1.2"/>
<circle cx="149.7" cy="459.51" r="1.65" fill="#fff" stroke="#000" stroke-width="1.2"/>
<circle cx="155.5" cy="459.51" r="1.65" fill="#fff" stroke="#000" stroke-width="1.2"/>
<circle cx="149.7" cy="462.51" r="1.65" fill="#fff" stroke="#000" stroke-width="1.2"/>
<circle cx="158.2" cy="462.51" r="1.65" fill="#fff" stroke="#000" stroke-width="1.2"/>
<circle cx="161.2" cy="462.51" r="1.65" fill="#fff" stroke="#000" stroke-width="1.2"/>
<circle cx="155.5" cy="465.9" r="1.65" fill="#fff" stroke="#000" stroke-width="1.2"/>
<line x1="32" y1="463.68" x2="51.4" y2="463.68" stroke="#000" stroke-width="1"/>
<line x1="60.2" y1="452.78" x2="79.8" y2="452.78" stroke="#000" stroke-width="1"/>
<line x1="89" y1="463.33" x2="108.2" y2="463.33" stroke="#000" stroke-width="1"/>
<line x1="117" y1="460.16" x2="136.8" y2="460.16" stroke="#000" stroke-width="1"/>
<line x1="145.7" y1="449.14" x2="165.3" y2="449.14" stroke="#000" stroke-width="1"/>
<path d="M27.8 383V477.4H170.3" stroke="#000" stroke-width="1.6" fill="none"/>
<text x="0" y="0" font-size="7" font-weight="bold" text-anchor="end" fill="#111" stroke="#111" stroke-width="0.2" transform="translate(23.8 479.95) scale(1 1.06)">0</text>
<text x="0" y="0" font-size="7" font-weight="bold" text-anchor="end" fill="#111" stroke="#111" stroke-width="0.2" transform="translate(23.8 456.5) scale(1 1.06)">2</text>
<text x="0" y="0" font-size="7" font-weight="bold" text-anchor="end" fill="#111" stroke="#111" stroke-width="0.2" transform="translate(23.8 433.05) scale(1 1.06)">4</text>
<text x="0" y="0" font-size="7" font-weight="bold" text-anchor="end" fill="#111" stroke="#111" stroke-width="0.2" transform="translate(23.8 409.6) scale(1 1.06)">6</text>
<text x="0" y="0" font-size="7" font-weight="bold" text-anchor="end" fill="#111" stroke="#111" stroke-width="0.2" transform="translate(23.8 386.15) scale(1 1.06)">8</text>
<path d="M27.8 477.4H24.6M27.8 453.95H24.6M27.8 430.5H24.6M27.8 407.05H24.6M27.8 383.6H24.6M41.7 477.4V480.4M70 477.4V480.4M98.6 477.4V480.4M126.9 477.4V480.4M155.5 477.4V480.4" stroke="#000" stroke-width="1.6" fill="none"/>
<circle cx="98.6" cy="477.7" r="1.75" fill="#000"/>
<text x="0" y="0" font-size="7.6" font-weight="bold" text-anchor="middle" fill="#111" stroke="#111" stroke-width="0.2" transform="translate(41.7 487.2) scale(1 1.06)">BM</text>
<text x="0" y="0" font-size="7.6" font-weight="bold" text-anchor="middle" fill="#111" stroke="#111" stroke-width="0.2" transform="translate(67.2 487.2) scale(1 1.06)">T<tspan font-size="5.4" dy="1.8">MH60</tspan><tspan dy="-1.8" font-size="0.1">&#8203;</tspan></text>
<text x="0" y="0" font-size="7.6" font-weight="bold" text-anchor="middle" fill="#111" stroke="#111" stroke-width="0.2" transform="translate(97 487.2) scale(1 1.06)">T<tspan font-size="5.4" dy="1.8">M</tspan><tspan dy="-1.8" font-size="0.1">&#8203;</tspan></text>
<text x="0" y="0" font-size="7.6" font-weight="bold" text-anchor="middle" fill="#111" stroke="#111" stroke-width="0.2" transform="translate(125.3 487.2) scale(1 1.06)">T<tspan font-size="5.4" dy="1.8">N</tspan><tspan dy="-1.8" font-size="0.1">&#8203;</tspan></text>
<text x="0" y="0" font-size="7.6" font-weight="bold" text-anchor="middle" fill="#111" stroke="#111" stroke-width="0.2" transform="translate(154.1 487.2) scale(1 1.06)">T<tspan font-size="5.4" dy="1.8">N</tspan><tspan dy="-1.8" font-size="0.1">&#8203;</tspan></text>
<line x1="63.3" y1="492" x2="137" y2="492" stroke="#000" stroke-width="1.2"/>
<line x1="142.5" y1="492" x2="183.5" y2="492" stroke="#000" stroke-width="1.2"/>
<text x="0" y="0" font-size="10.2" text-anchor="middle" fill="#111" stroke="#111" stroke-width="0.2" transform="translate(99.3 503.5) scale(1 1.06)">5x10<tspan font-size="7.2" dy="-4">5</tspan><tspan dy="4" font-size="0.1">&#8203;</tspan></text>
<text x="0" y="0" font-size="10.2" text-anchor="middle" fill="#111" stroke="#111" stroke-width="0.2" transform="translate(162.9 503.5) scale(1 1.06)">1x10<tspan font-size="7.2" dy="-4">6</tspan><tspan dy="4" font-size="0.1">&#8203;</tspan></text>
<text x="0" y="0" font-size="7.75" font-weight="bold" text-anchor="middle" fill="#111" stroke="#111" stroke-width="0.2" transform="translate(10.2 430.8) rotate(-90) scale(1 1.06)">Pathology Score</text>
</g>
<g id="colon">
<text x="0" y="0" font-size="9.4" font-weight="bold" text-anchor="middle" fill="#111" stroke="#111" stroke-width="0.2" transform="translate(308.5 371.8) scale(1 1.06)">Colon</text>
<circle cx="251.2" cy="457.8" r="1.65" fill="#fff" stroke="#000" stroke-width="1.2"/>
<circle cx="254.6" cy="462.7" r="1.65" fill="#fff" stroke="#000" stroke-width="1.2"/>
<circle cx="245.5" cy="467.3" r="1.65" fill="#fff" stroke="#000" stroke-width="1.2"/>
<circle cx="251.2" cy="467.3" r="1.65" fill="#fff" stroke="#000" stroke-width="1.2"/>
<circle cx="256.7" cy="467.3" r="1.65" fill="#fff" stroke="#000" stroke-width="1.2"/>
<circle cx="245.5" cy="475.1" r="1.65" fill="#fff" stroke="#000" stroke-width="1.2"/>
<circle cx="253.9" cy="475.1" r="1.65" fill="#fff" stroke="#000" stroke-width="1.2"/>
<circle cx="257.1" cy="475.1" r="1.65" fill="#fff" stroke="#000" stroke-width="1.2"/>
<circle cx="279.8" cy="453.1" r="1.65" fill="#fff" stroke="#000" stroke-width="1.2"/>
<circle cx="274" cy="457.8" r="1.65" fill="#fff" stroke="#000" stroke-width="1.2"/>
<circle cx="279.8" cy="460.5" r="1.65" fill="#fff" stroke="#000" stroke-width="1.2"/>
<circle cx="285.3" cy="460.5" r="1.65" fill="#fff" stroke="#000" stroke-width="1.2"/>
<circle cx="276.8" cy="463.1" r="1.65" fill="#fff" stroke="#000" stroke-width="1.2"/>
<circle cx="282.5" cy="463.1" r="1.65" fill="#fff" stroke="#000" stroke-width="1.2"/>
<circle cx="274" cy="467.3" r="1.65" fill="#fff" stroke="#000" stroke-width="1.2"/>
<circle cx="279.8" cy="467.3" r="1.65" fill="#fff" stroke="#000" stroke-width="1.2"/>
<circle cx="285.3" cy="465.2" r="1.65" fill="#fff" stroke="#000" stroke-width="1.2"/>
<circle cx="276.8" cy="473" r="1.65" fill="#fff" stroke="#000" stroke-width="1.2"/>
<circle cx="282.5" cy="473" r="1.65" fill="#fff" stroke="#000" stroke-width="1.2"/>
<circle cx="274" cy="475.1" r="1.65" fill="#fff" stroke="#000" stroke-width="1.2"/>
<circle cx="279.8" cy="475.1" r="1.65" fill="#fff" stroke="#000" stroke-width="1.2"/>
<circle cx="285.3" cy="475.1" r="1.65" fill="#fff" stroke="#000" stroke-width="1.2"/>
<circle cx="308" cy="460.3" r="1.65" fill="#fff" stroke="#000" stroke-width="1.2"/>
<circle cx="305.2" cy="462.7" r="1.65" fill="#fff" stroke="#000" stroke-width="1.2"/>
<circle cx="310.7" cy="462.7" r="1.65" fill="#fff" stroke="#000" stroke-width="1.2"/>
<circle cx="302.7" cy="465.2" r="1.65" fill="#fff" stroke="#000" stroke-width="1.2"/>
<circle cx="308" cy="465.2" r="1.65" fill="#fff" stroke="#000" stroke-width="1.2"/>
<circle cx="313.7" cy="465.2" r="1.65" fill="#fff" stroke="#000" stroke-width="1.2"/>
<circle cx="308" cy="467.7" r="1.65" fill="#fff" stroke="#000" stroke-width="1.2"/>
<circle cx="302.7" cy="475.1" r="1.65" fill="#fff" stroke="#000" stroke-width="1.2"/>
<circle cx="305.2" cy="475.1" r="1.65" fill="#fff" stroke="#000" stroke-width="1.2"/>
<circle cx="308" cy="475.1" r="1.65" fill="#fff" stroke="#000" stroke-width="1.2"/>
<circle cx="310.7" cy="475.1" r="1.65" fill="#fff" stroke="#000" stroke-width="1.2"/>
<circle cx="314.9" cy="475.1" r="1.65" fill="#fff" stroke="#000" stroke-width="1.2"/>
<circle cx="336.5" cy="427.1" r="1.65" fill="#fff" stroke="#000" stroke-width="1.2"/>
<circle cx="336.5" cy="450.8" r="1.65" fill="#fff" stroke="#000" stroke-width="1.2"/>
<circle cx="336.5" cy="457.8" r="1.65" fill="#fff" stroke="#000" stroke-width="1.2"/>
<circle cx="330.8" cy="460.3" r="1.65" fill="#fff" stroke="#000" stroke-width="1.2"/>
<circle cx="341.8" cy="462.7" r="1.65" fill="#fff" stroke="#000" stroke-width="1.2"/>
<circle cx="330.8" cy="465.2" r="1.65" fill="#fff" stroke="#000" stroke-width="1.2"/>
<circle cx="336.5" cy="465.2" r="1.65" fill="#fff" stroke="#000" stroke-width="1.2"/>
<circle cx="333.8" cy="475.1" r="1.65" fill="#fff" stroke="#000" stroke-width="1.2"/>
<circle cx="339.1" cy="475.1" r="1.65" fill="#fff" stroke="#000" stroke-width="1.2"/>
<circle cx="365.1" cy="416.1" r="1.65" fill="#fff" stroke="#000" stroke-width="1.2"/>
<circle cx="359.4" cy="420.8" r="1.65" fill="#fff" stroke="#000" stroke-width="1.2"/>
<circle cx="365.1" cy="423.5" r="1.65" fill="#fff" stroke="#000" stroke-width="1.2"/>
<circle cx="365.1" cy="441.3" r="1.65" fill="#fff" stroke="#000" stroke-width="1.2"/>
<circle cx="359.4" cy="447.2" r="1.65" fill="#fff" stroke="#000" stroke-width="1.2"/>
<circle cx="365.1" cy="449.8" r="1.65" fill="#fff" stroke="#000" stroke-width="1.2"/>
<circle cx="365.1" cy="457.8" r="1.65" fill="#fff" stroke="#000" stroke-width="1.2"/>
<circle cx="370.8" cy="462.4" r="1.65" fill="#fff" stroke="#000" stroke-width="1.2"/>
<circle cx="359.4" cy="465.2" r="1.65" fill="#fff" stroke="#000" stroke-width="1.2"/>
<circle cx="365.1" cy="465.2" r="1.65" fill="#fff" stroke="#000" stroke-width="1.2"/>
<line x1="241.3" y1="469.37" x2="261.1" y2="469.37" stroke="#000" stroke-width="1"/>
<line x1="269.9" y1="466.29" x2="289.7" y2="466.29" stroke="#000" stroke-width="1"/>
<line x1="298.2" y1="469.37" x2="317.8" y2="469.37" stroke="#000" stroke-width="1"/>
<line x1="326.6" y1="464.63" x2="346.4" y2="464.63" stroke="#000" stroke-width="1"/>
<line x1="355.2" y1="443.06" x2="375" y2="443.06" stroke="#000" stroke-width="1"/>
<path d="M237.4 382.5V477.9H379.9" stroke="#000" stroke-width="1.6" fill="none"/>
<text x="0" y="0" font-size="7" font-weight="bold" text-anchor="end" fill="#111" stroke="#111" stroke-width="0.2" transform="translate(233.4 480.45) scale(1 1.06)">0</text>
<text x="0" y="0" font-size="7" font-weight="bold" text-anchor="end" fill="#111" stroke="#111" stroke-width="0.2" transform="translate(233.4 456.75) scale(1 1.06)">1</text>
<text x="0" y="0" font-size="7" font-weight="bold" text-anchor="end" fill="#111" stroke="#111" stroke-width="0.2" transform="translate(233.4 433.05) scale(1 1.06)">2</text>
<text x="0" y="0" font-size="7" font-weight="bold" text-anchor="end" fill="#111" stroke="#111" stroke-width="0.2" transform="translate(233.4 409.35) scale(1 1.06)">3</text>
<text x="0" y="0" font-size="7" font-weight="bold" text-anchor="end" fill="#111" stroke="#111" stroke-width="0.2" transform="translate(233.4 385.65) scale(1 1.06)">4</text>
<path d="M237.4 477.9H234.2M237.4 454.2H234.2M237.4 430.5H234.2M237.4 406.8H234.2M237.4 383.1H234.2M251.2 477.9V480.9M279.8 477.9V480.9M308 477.9V480.9M336.5 477.9V480.9M365.1 477.9V480.9" stroke="#000" stroke-width="1.6" fill="none"/>
<circle cx="251.2" cy="478.2" r="1.75" fill="#000"/>
<circle cx="279.8" cy="478.2" r="1.75" fill="#000"/>
<circle cx="308" cy="478.2" r="1.75" fill="#000"/>
<circle cx="330.8" cy="478.2" r="1.75" fill="#000"/>
<circle cx="336.5" cy="478.2" r="1.75" fill="#000"/>
<circle cx="341.8" cy="478.2" r="1.75" fill="#000"/>
<circle cx="365.1" cy="478.2" r="1.75" fill="#000"/>
<circle cx="370.8" cy="478.2" r="1.75" fill="#000"/>
<text x="0" y="0" font-size="7.6" font-weight="bold" text-anchor="middle" fill="#111" stroke="#111" stroke-width="0.2" transform="translate(251.2 487.2) scale(1 1.06)">BM</text>
<text x="0" y="0" font-size="7.6" font-weight="bold" text-anchor="middle" fill="#111" stroke="#111" stroke-width="0.2" transform="translate(275.8 487.2) scale(1 1.06)">T<tspan font-size="5.4" dy="1.8">MH60</tspan><tspan dy="-1.8" font-size="0.1">&#8203;</tspan></text>
<text x="0" y="0" font-size="7.6" font-weight="bold" text-anchor="middle" fill="#111" stroke="#111" stroke-width="0.2" transform="translate(306.4 487.2) scale(1 1.06)">T<tspan font-size="5.4" dy="1.8">M</tspan><tspan dy="-1.8" font-size="0.1">&#8203;</tspan></text>
<text x="0" y="0" font-size="7.6" font-weight="bold" text-anchor="middle" fill="#111" stroke="#111" stroke-width="0.2" transform="translate(334.9 487.2) scale(1 1.06)">T<tspan font-size="5.4" dy="1.8">N</tspan><tspan dy="-1.8" font-size="0.1">&#8203;</tspan></text>
<text x="0" y="0" font-size="7.6" font-weight="bold" text-anchor="middle" fill="#111" stroke="#111" stroke-width="0.2" transform="translate(363.7 487.2) scale(1 1.06)">T<tspan font-size="5.4" dy="1.8">N</tspan><tspan dy="-1.8" font-size="0.1">&#8203;</tspan></text>
<line x1="264" y1="492.2" x2="337.4" y2="492.2" stroke="#000" stroke-width="1.2"/>
<line x1="343.4" y1="492.2" x2="384.1" y2="492.2" stroke="#000" stroke-width="1.2"/>
<text x="0" y="0" font-size="10.2" text-anchor="middle" fill="#111" stroke="#111" stroke-width="0.2" transform="translate(300.1 503.5) scale(1 1.06)">5x10<tspan font-size="7.2" dy="-4">5</tspan><tspan dy="4" font-size="0.1">&#8203;</tspan></text>
<text x="0" y="0" font-size="10.2" text-anchor="middle" fill="#111" stroke="#111" stroke-width="0.2" transform="translate(364 503.5) scale(1 1.06)">1x10<tspan font-size="7.2" dy="-4">6</tspan><tspan dy="4" font-size="0.1">&#8203;</tspan></text>
<text x="0" y="0" font-size="7.75" font-weight="bold" text-anchor="middle" fill="#111" stroke="#111" stroke-width="0.2" transform="translate(219.4 430.8) rotate(-90) scale(1 1.06)">Pathology Score</text>
</g>
<g id="panelD">
<rect x="29.8" y="553" width="85.3" height="85.4" fill="#fff" stroke="#b2b2b2" stroke-width="1"/>
<path d="M29.3 633.4h1.4M36.8 637.7v1.4M29.3 611.9h1.4M58.3 637.7v1.4M29.3 590.4h1.4M79.8 637.7v1.4M29.3 568.9h1.4M101.3 637.7v1.4" stroke="#555" stroke-width="0.8" fill="none"/>
<text x="0" y="0" font-size="10.4" text-anchor="middle" fill="#111" stroke="#111" stroke-width="0.2" transform="translate(74.3 547.6) scale(1 1.06)">T<tspan font-size="7.5" dy="2">MH60</tspan><tspan dy="-2" font-size="0.1">&#8203;</tspan> 5x10<tspan font-size="7.5" dy="-3.6">5</tspan><tspan dy="3.6" font-size="0.1">&#8203;</tspan></text>
<text x="0" y="0" font-size="8.8" font-weight="bold" text-anchor="middle" fill="#111" stroke="#111" stroke-width="0.2" transform="translate(58.8 580.2) scale(1 1.06)">29.6</text>
<rect x="118.5" y="553" width="85.7" height="85.4" fill="#fff" stroke="#b2b2b2" stroke-width="1"/>
<path d="M118 633.4h1.4M125.5 637.7v1.4M118 611.9h1.4M147 637.7v1.4M118 590.4h1.4M168.5 637.7v1.4M118 568.9h1.4M190 637.7v1.4" stroke="#555" stroke-width="0.8" fill="none"/>
<text x="0" y="0" font-size="10.4" text-anchor="middle" fill="#111" stroke="#111" stroke-width="0.2" transform="translate(162.5 547.6) scale(1 1.06)">T<tspan font-size="7.5" dy="2">M</tspan><tspan dy="-2" font-size="0.1">&#8203;</tspan> 5x10<tspan font-size="7.5" dy="-3.6">5</tspan><tspan dy="3.6" font-size="0.1">&#8203;</tspan></text>
<text x="0" y="0" font-size="8.8" font-weight="bold" text-anchor="middle" fill="#111" stroke="#111" stroke-width="0.2" transform="translate(149.3 580.2) scale(1 1.06)">1.13</text>
<rect x="207.4" y="553" width="85.4" height="85.4" fill="#fff" stroke="#b2b2b2" stroke-width="1"/>
<path d="M206.9 633.4h1.4M214.4 637.7v1.4M206.9 611.9h1.4M235.9 637.7v1.4M206.9 590.4h1.4M257.4 637.7v1.4M206.9 568.9h1.4M278.9 637.7v1.4" stroke="#555" stroke-width="0.8" fill="none"/>
<text x="0" y="0" font-size="10.4" text-anchor="middle" fill="#111" stroke="#111" stroke-width="0.2" transform="translate(250.5 547.6) scale(1 1.06)">T<tspan font-size="7.5" dy="2">N</tspan><tspan dy="-2" font-size="0.1">&#8203;</tspan> 5x10<tspan font-size="7.5" dy="-3.6">5</tspan><tspan dy="3.6" font-size="0.1">&#8203;</tspan></text>
<text x="0" y="0" font-size="8.8" font-weight="bold" text-anchor="middle" fill="#111" stroke="#111" stroke-width="0.2" transform="translate(238.2 580.2) scale(1 1.06)">1.74</text>
<rect x="296.2" y="553" width="85.3" height="85.4" fill="#fff" stroke="#b2b2b2" stroke-width="1"/>
<path d="M295.7 633.4h1.4M303.2 637.7v1.4M295.7 611.9h1.4M324.7 637.7v1.4M295.7 590.4h1.4M346.2 637.7v1.4M295.7 568.9h1.4M367.7 637.7v1.4" stroke="#555" stroke-width="0.8" fill="none"/>
<text x="0" y="0" font-size="10.4" text-anchor="middle" fill="#111" stroke="#111" stroke-width="0.2" transform="translate(339 546.2) scale(1 1.06)">T<tspan font-size="7.5" dy="2">N</tspan><tspan dy="-2" font-size="0.1">&#8203;</tspan> 1x10<tspan font-size="7.5" dy="-3.6">6</tspan><tspan dy="3.6" font-size="0.1">&#8203;</tspan></text>
<text x="0" y="0" font-size="8.8" font-weight="bold" text-anchor="middle" fill="#111" stroke="#111" stroke-width="0.2" transform="translate(328.2 580.2) scale(1 1.06)">1.12</text>
<g filter="url(#b1)">
<path d="M71 606.4C71.18 604.75 71.18 602 72.1 599.8C73.02 597.6 74.65 595.13 76.5 593.2C78.35 591.27 80.8 589.32 83.2 588.2C85.6 587.08 88.52 586.6 90.9 586.5C93.28 586.4 95.95 586.67 97.5 587.6C99.05 588.53 99.83 590.43 100.2 592.1C100.57 593.77 100.52 595.77 99.7 597.6C98.88 599.43 97.32 601.37 95.3 603.1C93.28 604.83 90.18 606.57 87.6 608C85.02 609.43 82.1 611.05 79.8 611.7C77.5 612.35 75.27 612.23 73.8 611.9C72.33 611.57 71.47 610.62 71 609.7C70.53 608.78 70.82 608.05 71 606.4Z" fill="rgba(0,0,0,0.07)" stroke="rgba(0,0,0,0.35)" stroke-width="0.5"/>
<path d="M72.8 605.1C73.05 603.64 73.26 601.12 74.1 599.22C74.94 597.32 76.33 595.33 77.86 593.7C79.39 592.07 81.25 590.41 83.27 589.44C85.3 588.47 87.93 588.03 90.03 587.87C92.13 587.72 94.44 587.61 95.87 588.5C97.3 589.39 98.27 591.71 98.6 593.19C98.93 594.68 98.54 595.8 97.86 597.43C97.17 599.06 96.19 601.44 94.49 603C92.79 604.55 89.88 605.65 87.67 606.76C85.45 607.87 83.18 609.11 81.2 609.66C79.22 610.22 77.23 610.36 75.8 610.08C74.37 609.8 73.12 608.8 72.62 607.97C72.12 607.14 72.56 606.56 72.8 605.1Z" fill="rgba(0,0,0,0.03)" stroke="rgba(0,0,0,0.5)" stroke-width="0.5"/>
<path d="M74.77 604.82C74.77 603.64 74.72 601.32 75.48 599.57C76.23 597.82 77.81 595.9 79.28 594.34C80.75 592.79 82.55 591.11 84.28 590.23C86.01 589.36 87.81 589.1 89.64 589.09C91.48 589.07 94.06 589.37 95.28 590.14C96.5 590.92 96.73 592.48 96.97 593.72C97.21 594.97 97.27 596.2 96.73 597.62C96.18 599.03 95.29 600.83 93.72 602.19C92.15 603.56 89.33 604.68 87.32 605.79C85.31 606.91 83.34 608.46 81.67 608.91C80.01 609.35 78.36 608.85 77.32 608.47C76.28 608.09 75.87 607.24 75.44 606.63C75.02 606.02 74.76 606 74.77 604.82Z" fill="rgba(0,0,0,0.03)" stroke="rgba(0,0,0,0.5)" stroke-width="0.5"/>
<path d="M76.86 603.81C76.94 602.73 76.77 600.74 77.3 599.32C77.82 597.9 78.71 596.5 80 595.28C81.29 594.05 83.34 592.75 85.01 591.98C86.69 591.21 88.54 590.69 90.05 590.63C91.57 590.57 93.15 591 94.1 591.62C95.04 592.24 95.45 593.24 95.71 594.36C95.97 595.49 96.19 597.16 95.65 598.37C95.11 599.58 93.89 600.54 92.47 601.61C91.05 602.68 88.75 603.81 87.12 604.78C85.5 605.75 84.06 607.09 82.72 607.44C81.37 607.79 80.04 607.13 79.05 606.86C78.07 606.59 77.19 606.34 76.83 605.84C76.46 605.33 76.78 604.9 76.86 603.81Z" fill="rgba(0,0,0,0.03)" stroke="rgba(0,0,0,0.5)" stroke-width="0.5"/>
<path d="M78.44 602.57C78.53 601.65 78.68 599.89 79.16 598.79C79.64 597.7 80.38 597 81.34 596.01C82.29 595.03 83.59 593.46 84.89 592.89C86.2 592.33 87.93 592.65 89.16 592.63C90.39 592.61 91.45 592.29 92.28 592.78C93.11 593.27 93.84 594.62 94.15 595.56C94.47 596.49 94.63 597.52 94.16 598.4C93.69 599.27 92.46 599.9 91.33 600.81C90.21 601.71 88.64 603.12 87.41 603.82C86.18 604.53 85.18 604.79 83.95 605.01C82.73 605.24 80.94 605.32 80.05 605.2C79.17 605.08 78.92 604.75 78.65 604.31C78.39 603.87 78.36 603.49 78.44 602.57Z" fill="rgba(0,0,0,0.03)" stroke="rgba(0,0,0,0.5)" stroke-width="0.5"/>
<path d="M80.99 601.42C81.01 600.82 80.51 599.77 80.84 598.94C81.17 598.11 82.07 597.17 82.97 596.45C83.87 595.72 85.25 595.01 86.23 594.57C87.22 594.13 87.97 593.96 88.88 593.82C89.78 593.67 90.99 593.29 91.68 593.69C92.36 594.09 92.8 595.43 92.98 596.22C93.16 597.01 93.17 597.77 92.75 598.44C92.34 599.11 91.45 599.57 90.51 600.24C89.58 600.91 88.23 601.92 87.14 602.43C86.06 602.95 84.88 603.17 83.98 603.35C83.08 603.53 82.27 603.66 81.73 603.52C81.19 603.39 80.86 602.88 80.74 602.53C80.62 602.18 80.97 602.02 80.99 601.42Z" fill="rgba(0,0,0,0.03)" stroke="rgba(0,0,0,0.5)" stroke-width="0.5"/>
<path d="M82.38 600.36C82.36 599.94 82.53 599.22 82.79 598.73C83.05 598.23 83.34 597.97 83.95 597.39C84.55 596.81 85.7 595.67 86.41 595.26C87.12 594.86 87.58 595.02 88.2 594.99C88.83 594.96 89.63 594.7 90.16 595.07C90.7 595.44 91.29 596.67 91.4 597.2C91.52 597.73 91.24 597.87 90.88 598.23C90.53 598.6 89.86 598.94 89.27 599.39C88.68 599.84 87.97 600.51 87.37 600.92C86.77 601.34 86.37 601.56 85.67 601.86C84.98 602.15 83.65 602.8 83.19 602.7C82.73 602.61 83.04 601.67 82.91 601.28C82.77 600.89 82.4 600.79 82.38 600.36Z" fill="rgba(0,0,0,0.03)" stroke="rgba(0,0,0,0.5)" stroke-width="0.5"/>
<path d="M84.9 599.29C85.02 599.14 84.86 599.43 85.06 599.19C85.26 598.95 85.85 598.26 86.1 597.85C86.35 597.44 86.31 596.88 86.57 596.72C86.84 596.55 87.28 596.8 87.71 596.85C88.14 596.9 88.86 596.98 89.13 597.04C89.41 597.09 89.26 596.9 89.36 597.2C89.47 597.5 89.81 598.45 89.76 598.84C89.72 599.23 89.42 599.31 89.1 599.54C88.78 599.78 88.35 600.08 87.83 600.26C87.32 600.44 86.44 600.64 85.99 600.63C85.55 600.62 85.43 600.27 85.16 600.17C84.9 600.08 84.43 600.22 84.39 600.07C84.34 599.92 84.79 599.44 84.9 599.29Z" fill="rgba(0,0,0,0.03)" stroke="rgba(0,0,0,0.5)" stroke-width="0.5"/>
<path d="M70.5 616.3C70.87 614.75 70.17 614.33 72.1 613.6C74.03 612.87 78.78 612.92 82.1 611.9C85.42 610.88 89.07 609.15 92 607.5C94.93 605.85 97.77 602.73 99.7 602C101.63 601.27 102.87 601.82 103.6 603.1C104.33 604.38 104.3 607.13 104.1 609.7C103.9 612.27 103.32 615.57 102.4 618.5C101.48 621.43 99.78 624.35 98.6 627.3C97.42 630.25 99.35 634.63 95.3 636.2C91.25 637.77 78.35 637.45 74.3 636.7C70.25 635.95 71.73 634 71 631.7C70.27 629.4 69.98 625.47 69.9 622.9C69.82 620.33 70.13 617.85 70.5 616.3Z" fill="rgba(0,0,0,0.2)" stroke="rgba(0,0,0,0.35)" stroke-width="0.5"/>
<path d="M72.06 617.42C72.51 616 72.35 615.39 74.16 614.8C75.98 614.2 80.03 614.75 82.95 613.84C85.86 612.93 89.21 610.92 91.68 609.34C94.14 607.77 96.14 605.04 97.72 604.37C99.29 603.69 100.41 604.07 101.12 605.31C101.84 606.55 102.06 609.51 101.99 611.82C101.92 614.12 101.51 616.57 100.71 619.14C99.91 621.7 98.35 624.58 97.18 627.2C96.01 629.83 97.23 633.52 93.71 634.9C90.19 636.27 79.51 636.15 76.05 635.46C72.6 634.77 73.76 632.78 72.99 630.75C72.22 628.73 71.61 625.54 71.45 623.32C71.3 621.1 71.61 618.84 72.06 617.42Z" fill="rgba(0,0,0,0)" stroke="rgba(0,0,0,0.5)" stroke-width="0.5"/>
<path d="M73.93 618.45C74.3 617.19 74.31 616.52 75.79 615.99C77.27 615.46 80.34 616.06 82.82 615.25C85.3 614.44 88.48 612.52 90.66 611.13C92.85 609.74 94.42 607.38 95.92 606.93C97.42 606.48 99.1 607.33 99.66 608.42C100.22 609.51 99.42 611.53 99.28 613.46C99.14 615.38 99.49 617.79 98.82 619.98C98.16 622.16 96.35 624.42 95.31 626.56C94.27 628.69 95.55 631.58 92.58 632.79C89.6 633.99 80.47 634.22 77.46 633.8C74.45 633.38 75.15 632 74.51 630.29C73.86 628.57 73.67 625.51 73.58 623.54C73.48 621.56 73.56 619.71 73.93 618.45Z" fill="rgba(0,0,0,0)" stroke="rgba(0,0,0,0.5)" stroke-width="0.5"/>
<path d="M76.23 618.78C76.47 617.76 75.54 617.54 76.68 617.14C77.82 616.73 80.94 616.97 83.06 616.34C85.19 615.71 87.56 614.36 89.42 613.36C91.28 612.36 92.97 610.79 94.22 610.33C95.47 609.87 96.39 609.76 96.94 610.58C97.48 611.4 97.6 613.53 97.49 615.25C97.37 616.97 96.84 619.08 96.24 620.9C95.64 622.71 94.63 624.41 93.89 626.14C93.15 627.88 94.4 630.38 91.8 631.33C89.19 632.27 80.95 632.16 78.27 631.81C75.59 631.46 76.24 630.65 75.72 629.23C75.21 627.8 75.1 625.01 75.19 623.27C75.27 621.53 75.98 619.81 76.23 618.78Z" fill="rgba(0,0,0,0)" stroke="rgba(0,0,0,0.5)" stroke-width="0.5"/>
<path d="M77.93 620.05C78.05 619.19 77.38 618.95 78.36 618.61C79.34 618.27 82.1 618.51 83.79 617.99C85.48 617.47 87.01 616.42 88.49 615.48C89.96 614.54 91.52 612.73 92.63 612.34C93.75 611.95 94.75 612.39 95.18 613.14C95.62 613.89 95.31 615.5 95.23 616.82C95.15 618.15 95.17 619.6 94.7 621.08C94.23 622.57 93.11 624.15 92.42 625.72C91.74 627.3 92.74 629.72 90.61 630.54C88.48 631.36 81.74 630.99 79.63 630.64C77.52 630.29 78.28 629.58 77.94 628.45C77.6 627.31 77.59 625.2 77.59 623.8C77.59 622.41 77.8 620.92 77.93 620.05Z" fill="rgba(0,0,0,0)" stroke="rgba(0,0,0,0.5)" stroke-width="0.5"/>
<path d="M79.94 620.68C80.02 620.08 79.44 620.6 80.2 620.28C80.96 619.97 83.23 619.29 84.48 618.8C85.73 618.31 86.68 617.98 87.72 617.34C88.77 616.7 89.99 615.2 90.75 614.94C91.52 614.69 91.9 615.19 92.31 615.81C92.73 616.43 93.29 617.64 93.22 618.68C93.16 619.71 92.3 620.97 91.91 622.02C91.53 623.06 91.25 623.74 90.9 624.96C90.55 626.18 91.5 628.59 89.8 629.35C88.11 630.11 82.44 629.91 80.74 629.53C79.04 629.15 79.76 628.01 79.6 627.07C79.43 626.13 79.69 624.96 79.75 623.89C79.81 622.83 79.87 621.28 79.94 620.68Z" fill="rgba(0,0,0,0)" stroke="rgba(0,0,0,0.5)" stroke-width="0.5"/>
<path d="M80.96 621.78C81.08 621.25 81.22 621.15 81.76 620.93C82.31 620.7 83.28 620.77 84.24 620.43C85.21 620.09 86.66 619.34 87.54 618.9C88.42 618.46 89.11 617.93 89.53 617.78C89.95 617.63 89.87 617.61 90.09 617.98C90.3 618.35 90.88 619.18 90.83 620.01C90.78 620.84 90.03 622.05 89.8 622.95C89.57 623.84 89.78 624.69 89.46 625.4C89.13 626.1 89.11 626.78 87.85 627.18C86.59 627.59 83.01 628.07 81.9 627.83C80.8 627.6 81.35 626.41 81.21 625.79C81.07 625.16 81.1 624.77 81.05 624.1C81.01 623.44 80.84 622.3 80.96 621.78Z" fill="rgba(0,0,0,0)" stroke="rgba(0,0,0,0.5)" stroke-width="0.5"/>
<path d="M83.42 622.53C83.41 622.39 82.74 622.8 83.01 622.76C83.27 622.71 84.51 622.57 85.03 622.26C85.55 621.96 85.64 621.23 86.13 620.92C86.62 620.61 87.65 620.38 87.96 620.41C88.27 620.43 87.86 620.83 87.97 621.09C88.08 621.36 88.64 621.62 88.61 622.01C88.58 622.41 88.03 623 87.79 623.48C87.55 623.96 87.29 624.5 87.16 624.89C87.03 625.28 87.59 625.53 87.02 625.79C86.45 626.05 84.44 626.61 83.76 626.46C83.08 626.3 83.07 625.34 82.95 624.86C82.83 624.38 82.95 623.95 83.03 623.56C83.11 623.17 83.42 622.66 83.42 622.53Z" fill="rgba(0,0,0,0)" stroke="rgba(0,0,0,0.5)" stroke-width="0.5"/>
<path d="M159.4 620.7C159.85 618.5 160.37 617.48 162.1 616.3C163.83 615.12 167.22 614.7 169.8 613.6C172.38 612.5 174.83 611.27 177.6 609.7C180.37 608.13 184.12 605.4 186.4 604.2C188.68 603 190.1 602.13 191.3 602.5C192.5 602.87 193.13 604.47 193.6 606.4C194.07 608.33 194.3 611.35 194.1 614.1C193.9 616.85 193.32 619.97 192.4 622.9C191.48 625.83 190.15 629.4 188.6 631.7C187.05 634 187.7 635.87 183.1 636.7C178.5 637.53 164.95 637.9 161 636.7C157.05 635.5 159.67 632.17 159.4 629.5C159.13 626.83 158.95 622.9 159.4 620.7Z" fill="rgba(0,0,0,0.08)" stroke="rgba(0,0,0,0.35)" stroke-width="0.5"/>
<path d="M161.17 620.39C161.52 618.36 161.95 617.51 163.54 616.47C165.13 615.43 168.29 615.12 170.73 614.15C173.18 613.17 175.68 612.05 178.2 610.62C180.72 609.19 183.87 606.68 185.86 605.56C187.85 604.43 189.08 603.57 190.12 603.87C191.16 604.17 191.61 605.55 192.09 607.38C192.57 609.2 193.21 612.29 193.02 614.84C192.83 617.39 191.74 620.12 190.95 622.68C190.16 625.25 189.56 628.17 188.27 630.24C186.98 632.3 187.42 634.19 183.21 635.06C179 635.93 166.62 636.53 163 635.46C159.37 634.4 161.76 631.17 161.45 628.66C161.15 626.14 160.82 622.42 161.17 620.39Z" fill="rgba(0,0,0,0.03)" stroke="rgba(0,0,0,0.55)" stroke-width="0.5"/>
<path d="M163.91 621.24C164.28 619.46 164.33 618.58 165.72 617.57C167.11 616.57 170.17 616.18 172.25 615.22C174.32 614.26 176.08 613.15 178.18 611.81C180.29 610.47 183.1 608.08 184.87 607.19C186.65 606.3 187.82 606.14 188.81 606.44C189.8 606.74 190.46 607.42 190.84 608.98C191.21 610.55 191.12 613.54 191.06 615.82C191.01 618.11 191.19 620.44 190.49 622.69C189.79 624.94 188.2 627.5 186.86 629.3C185.53 631.11 186.17 632.82 182.47 633.52C178.77 634.22 167.82 634.38 164.66 633.51C161.49 632.63 163.61 630.31 163.48 628.26C163.36 626.22 163.53 623.02 163.91 621.24Z" fill="rgba(0,0,0,0.03)" stroke="rgba(0,0,0,0.55)" stroke-width="0.5"/>
<path d="M166.35 620.84C166.59 619.31 166.41 619.04 167.51 618.18C168.62 617.32 171.2 616.54 172.97 615.68C174.74 614.81 176.16 614.04 178.12 612.97C180.09 611.9 183.12 610.06 184.75 609.24C186.39 608.42 187.15 607.84 187.91 608.05C188.67 608.27 189.02 609.21 189.32 610.54C189.63 611.88 189.89 614.18 189.76 616.07C189.63 617.95 189.13 619.83 188.52 621.85C187.92 623.88 187.12 626.53 186.12 628.22C185.13 629.92 185.7 631.37 182.56 632.02C179.41 632.67 169.99 632.93 167.25 632.15C164.51 631.37 166.25 629.21 166.1 627.33C165.95 625.44 166.12 622.36 166.35 620.84Z" fill="rgba(0,0,0,0.03)" stroke="rgba(0,0,0,0.55)" stroke-width="0.5"/>
<path d="M167.93 620.65C168.34 619.29 169.05 618.49 170.14 617.83C171.24 617.17 173.11 617.25 174.5 616.7C175.9 616.16 176.82 615.5 178.5 614.56C180.19 613.61 183.15 611.77 184.63 611.05C186.12 610.32 186.82 610.01 187.41 610.21C188.01 610.41 187.96 611.1 188.2 612.26C188.44 613.43 188.87 615.49 188.86 617.19C188.86 618.9 188.68 620.7 188.14 622.47C187.61 624.24 186.59 626.46 185.64 627.81C184.69 629.17 185.26 630.26 182.44 630.61C179.62 630.97 171.19 630.73 168.73 629.95C166.27 629.18 167.81 627.51 167.67 625.96C167.54 624.41 167.52 622 167.93 620.65Z" fill="rgba(0,0,0,0.03)" stroke="rgba(0,0,0,0.55)" stroke-width="0.5"/>
<path d="M169.8 621.19C170.04 620.08 170.65 619.4 171.61 618.78C172.56 618.16 174.25 618.13 175.53 617.48C176.81 616.83 177.88 615.63 179.29 614.85C180.7 614.08 182.85 613.36 184 612.85C185.14 612.34 185.58 611.72 186.15 611.79C186.73 611.85 187.19 612.35 187.46 613.27C187.73 614.19 187.98 615.89 187.79 617.3C187.59 618.71 186.73 620.26 186.27 621.72C185.81 623.17 185.69 624.79 185.03 626.06C184.37 627.32 184.63 628.88 182.29 629.33C179.95 629.77 173.01 629.38 170.99 628.73C168.98 628.08 170.38 626.69 170.18 625.43C169.98 624.18 169.57 622.3 169.8 621.19Z" fill="rgba(0,0,0,0.03)" stroke="rgba(0,0,0,0.55)" stroke-width="0.5"/>
<path d="M172.63 621C172.91 620.05 172.99 619.23 173.58 618.7C174.17 618.16 175.12 618.2 176.17 617.79C177.22 617.39 178.71 616.95 179.88 616.28C181.06 615.62 182.43 614.28 183.23 613.79C184.03 613.31 184.18 613.11 184.68 613.37C185.18 613.63 185.92 614.58 186.21 615.35C186.5 616.13 186.52 616.97 186.42 618.03C186.31 619.09 185.98 620.58 185.58 621.72C185.17 622.87 184.56 624.02 184.01 624.9C183.45 625.77 183.99 626.51 182.23 626.98C180.48 627.45 175.2 628.15 173.48 627.72C171.75 627.28 172.02 625.48 171.88 624.36C171.74 623.24 172.34 621.94 172.63 621Z" fill="rgba(0,0,0,0.03)" stroke="rgba(0,0,0,0.55)" stroke-width="0.5"/>
<path d="M174.84 621.38C175.03 620.71 174.86 619.72 175.28 619.36C175.7 619 176.61 619.5 177.35 619.23C178.09 618.95 178.87 618.23 179.69 617.69C180.51 617.15 181.45 616.42 182.26 615.98C183.07 615.55 184.07 614.98 184.54 615.08C185.02 615.19 184.97 615.95 185.1 616.63C185.23 617.3 185.48 618.24 185.32 619.13C185.16 620.02 184.49 621.2 184.15 621.97C183.81 622.73 183.77 623.11 183.27 623.73C182.76 624.36 182.52 625.41 181.13 625.7C179.75 626 176.11 625.9 174.95 625.51C173.79 625.13 174.18 624.08 174.16 623.39C174.14 622.7 174.65 622.05 174.84 621.38Z" fill="rgba(0,0,0,0.03)" stroke="rgba(0,0,0,0.55)" stroke-width="0.5"/>
<path d="M176.5 621.28C176.5 620.93 176.29 620.67 176.72 620.31C177.16 619.95 178.43 619.37 179.1 619.14C179.77 618.91 180.18 619.24 180.75 618.95C181.31 618.67 182.12 617.72 182.48 617.43C182.85 617.14 182.68 617.07 182.93 617.19C183.19 617.32 183.93 617.78 184.02 618.17C184.11 618.56 183.64 619.09 183.48 619.55C183.32 620.01 183.28 620.27 183.06 620.93C182.83 621.58 182.43 622.87 182.12 623.47C181.81 624.08 182.1 624.5 181.21 624.58C180.31 624.65 177.5 624.27 176.75 623.91C176 623.54 176.73 622.83 176.69 622.39C176.65 621.95 176.49 621.63 176.5 621.28Z" fill="rgba(0,0,0,0.03)" stroke="rgba(0,0,0,0.55)" stroke-width="0.5"/>
<path d="M248.5 625.1C248.5 622.53 248.37 619.23 249 617.4C249.63 615.57 250.45 614.93 252.3 614.1C254.15 613.27 257.52 613.42 260.1 612.4C262.68 611.38 265.42 609.73 267.8 608C270.18 606.27 272.38 603.28 274.4 602C276.42 600.72 278.43 599.93 279.9 600.3C281.37 600.67 282.55 602.08 283.2 604.2C283.85 606.32 283.98 609.88 283.8 613C283.62 616.12 282.93 619.78 282.1 622.9C281.27 626.02 280.08 629.3 278.8 631.7C277.52 634.1 279 636.37 274.4 637.3C269.8 638.23 255.43 638.05 251.2 637.3C246.97 636.55 249.45 634.83 249 632.8C248.55 630.77 248.5 627.67 248.5 625.1Z" fill="rgba(0,0,0,0.1)" stroke="rgba(0,0,0,0.35)" stroke-width="0.5"/>
<path d="M250.37 625.05C250.43 622.81 250.72 619.63 251.33 617.97C251.95 616.31 252.38 615.9 254.05 615.1C255.73 614.31 259.04 614.27 261.38 613.21C263.72 612.15 265.98 610.33 268.09 608.75C270.2 607.17 272.22 604.81 274.04 603.75C275.86 602.7 277.77 602.15 279.01 602.41C280.26 602.68 280.9 603.51 281.52 605.33C282.13 607.15 282.83 610.47 282.7 613.33C282.56 616.18 281.57 619.55 280.71 622.45C279.86 625.36 278.64 628.62 277.57 630.77C276.5 632.92 278.37 634.56 274.29 635.33C270.21 636.1 256.97 636.02 253.09 635.37C249.21 634.72 251.46 633.14 251.01 631.41C250.56 629.69 250.32 627.29 250.37 625.05Z" fill="rgba(0,0,0,0.03)" stroke="rgba(0,0,0,0.55)" stroke-width="0.5"/>
<path d="M252.17 623.74C252.04 621.82 252.05 619.78 252.61 618.33C253.17 616.87 253.94 615.65 255.54 615C257.13 614.35 260.13 615.24 262.19 614.42C264.25 613.59 266.1 611.58 267.89 610.04C269.68 608.5 271.32 606.23 272.91 605.19C274.51 604.16 276.28 603.51 277.46 603.83C278.64 604.15 279.44 605.29 280 607.12C280.56 608.94 280.87 612.27 280.81 614.79C280.75 617.31 280.32 619.8 279.63 622.23C278.94 624.67 277.74 627.48 276.65 629.38C275.57 631.29 276.84 632.97 273.1 633.68C269.36 634.38 257.51 634.25 254.22 633.62C250.93 632.98 253.71 631.51 253.37 629.87C253.03 628.22 252.29 625.66 252.17 623.74Z" fill="rgba(0,0,0,0.03)" stroke="rgba(0,0,0,0.55)" stroke-width="0.5"/>
<path d="M254.5 623.7C254.56 621.83 254.81 619.24 255.21 617.9C255.62 616.55 255.71 616.16 256.93 615.62C258.15 615.07 260.6 615.24 262.52 614.63C264.44 614.01 266.72 613.23 268.46 611.95C270.21 610.66 271.74 607.84 273 606.92C274.26 606 274.98 606.09 276.01 606.42C277.04 606.75 278.64 607.55 279.19 608.91C279.73 610.28 279.51 612.34 279.3 614.6C279.08 616.86 278.46 620.13 277.91 622.46C277.37 624.78 276.84 626.98 276.04 628.55C275.23 630.11 276.44 631.32 273.1 631.86C269.76 632.39 259.04 632.22 256 631.76C252.96 631.31 255.12 630.49 254.87 629.14C254.62 627.8 254.45 625.57 254.5 623.7Z" fill="rgba(0,0,0,0.03)" stroke="rgba(0,0,0,0.55)" stroke-width="0.5"/>
<path d="M256.94 623.28C256.89 621.76 256.65 619.83 256.95 618.7C257.25 617.58 257.73 617.01 258.74 616.51C259.75 616.01 261.49 616.27 263 615.72C264.51 615.17 266.28 614.34 267.81 613.22C269.34 612.1 270.99 609.89 272.19 609C273.38 608.12 274.09 607.65 274.97 607.93C275.85 608.22 277.07 609.48 277.46 610.72C277.84 611.96 277.42 613.52 277.29 615.37C277.16 617.22 277.14 619.93 276.68 621.82C276.23 623.72 275.33 625.4 274.57 626.74C273.81 628.09 274.92 629.29 272.14 629.89C269.37 630.49 260.4 630.69 257.92 630.34C255.44 630 257.42 629 257.26 627.82C257.1 626.65 256.99 624.8 256.94 623.28Z" fill="rgba(0,0,0,0.03)" stroke="rgba(0,0,0,0.55)" stroke-width="0.5"/>
<path d="M258.88 622.53C258.79 621.24 258.16 619.33 258.48 618.45C258.81 617.57 259.92 617.71 260.86 617.25C261.8 616.8 262.89 616.24 264.11 615.72C265.32 615.21 266.94 615 268.15 614.17C269.36 613.35 270.33 611.36 271.37 610.76C272.41 610.16 273.67 610.43 274.37 610.58C275.07 610.72 275.31 610.66 275.58 611.63C275.85 612.61 276 614.83 275.99 616.42C275.97 618.01 275.82 619.54 275.48 621.15C275.14 622.76 274.62 624.89 273.95 626.09C273.28 627.29 273.73 627.96 271.45 628.36C269.18 628.75 262.38 628.83 260.32 628.46C258.26 628.09 259.31 627.12 259.07 626.13C258.83 625.14 258.98 623.81 258.88 622.53Z" fill="rgba(0,0,0,0.03)" stroke="rgba(0,0,0,0.55)" stroke-width="0.5"/>
<path d="M260.22 622.3C260.15 621.43 260.2 620.24 260.49 619.41C260.79 618.58 261.29 617.75 262.02 617.33C262.74 616.9 263.8 617.16 264.86 616.88C265.92 616.6 267.44 616.35 268.39 615.65C269.33 614.95 269.78 613.2 270.51 612.69C271.24 612.18 272.19 612.5 272.77 612.59C273.36 612.68 273.79 612.48 274.02 613.23C274.26 613.98 274.13 615.71 274.18 617.09C274.23 618.48 274.56 620.2 274.34 621.54C274.12 622.89 273.36 624.31 272.85 625.18C272.34 626.05 273.22 626.39 271.29 626.75C269.36 627.11 262.99 627.71 261.27 627.36C259.54 627.01 261.12 625.49 260.95 624.65C260.77 623.81 260.3 623.17 260.22 622.3Z" fill="rgba(0,0,0,0.03)" stroke="rgba(0,0,0,0.55)" stroke-width="0.5"/>
<path d="M262.66 621.41C262.6 620.69 262.42 619.66 262.52 619.05C262.63 618.44 262.77 617.98 263.31 617.73C263.85 617.49 264.85 617.86 265.76 617.57C266.67 617.29 267.92 616.57 268.75 616.02C269.57 615.48 270.23 614.58 270.73 614.31C271.24 614.04 271.36 614.26 271.78 614.41C272.19 614.56 273.09 614.62 273.23 615.19C273.38 615.77 272.77 616.86 272.64 617.87C272.51 618.89 272.68 620.37 272.45 621.29C272.23 622.21 271.58 622.8 271.28 623.37C270.99 623.95 272.01 624.37 270.67 624.72C269.32 625.07 264.51 625.73 263.22 625.5C261.93 625.28 263.01 624.06 262.92 623.38C262.82 622.7 262.73 622.13 262.66 621.41Z" fill="rgba(0,0,0,0.03)" stroke="rgba(0,0,0,0.55)" stroke-width="0.5"/>
<path d="M264.03 620.58C264.12 620.03 264.77 619.46 265.02 619.24C265.27 619.01 265.23 619.38 265.51 619.22C265.78 619.05 266.11 618.5 266.66 618.25C267.21 618 268.35 617.99 268.82 617.72C269.28 617.44 269.15 616.93 269.44 616.62C269.74 616.3 270.35 615.76 270.6 615.84C270.85 615.92 270.71 616.61 270.94 617.1C271.17 617.58 271.86 618.23 271.98 618.73C272.1 619.24 271.94 619.51 271.66 620.1C271.38 620.7 270.55 621.68 270.29 622.32C270.04 622.95 271.03 623.76 270.14 623.91C269.24 624.06 265.86 623.44 264.93 623.21C263.99 622.98 264.68 622.99 264.53 622.55C264.38 622.12 263.95 621.14 264.03 620.58Z" fill="rgba(0,0,0,0.03)" stroke="rgba(0,0,0,0.55)" stroke-width="0.5"/>
<path d="M336.4 616.3C337.68 614.28 340.83 615.75 343.5 615.2C346.17 614.65 349.45 614.28 352.4 613C355.35 611.72 358.45 609.15 361.2 607.5C363.95 605.85 366.97 603.65 368.9 603.1C370.83 602.55 372.15 602.37 372.8 604.2C373.45 606.03 373.08 610.62 372.8 614.1C372.52 617.58 371.93 621.42 371.1 625.1C370.27 628.78 373.5 634.27 367.8 636.2C362.1 638.13 342.23 638.18 336.9 636.7C331.57 635.22 335.88 630.7 335.8 627.3C335.72 623.9 335.12 618.32 336.4 616.3Z" fill="rgba(0,0,0,0.16)" stroke="rgba(0,0,0,0.35)" stroke-width="0.5"/>
<path d="M338.56 616.4C339.72 614.5 342.53 616.35 344.96 615.94C347.4 615.53 350.49 615.2 353.17 613.95C355.85 612.7 358.61 610.03 361.05 608.45C363.5 606.86 366.04 604.98 367.85 604.43C369.66 603.89 371.32 603.41 371.9 605.16C372.48 606.91 371.66 611.74 371.31 614.94C370.96 618.15 370.59 621.02 369.8 624.38C369.01 627.73 371.78 633.15 366.55 635.08C361.32 637.01 343.18 637.26 338.41 635.96C333.65 634.67 337.94 630.58 337.96 627.32C337.98 624.06 337.39 618.3 338.56 616.4Z" fill="rgba(0,0,0,0.02)" stroke="rgba(0,0,0,0.55)" stroke-width="0.5"/>
<path d="M339.62 616.72C340.67 615.06 343.1 616.61 345.42 616.21C347.73 615.8 351 615.4 353.51 614.31C356.01 613.22 358.13 611 360.42 609.66C362.72 608.31 365.57 606.61 367.28 606.22C368.99 605.83 370.13 605.87 370.68 607.31C371.23 608.76 370.82 612.07 370.6 614.91C370.37 617.74 370.06 621.18 369.34 624.32C368.63 627.45 371.1 632.11 366.3 633.72C361.49 635.33 345.05 635.23 340.51 633.97C335.98 632.7 339.25 628.99 339.1 626.12C338.95 623.24 338.57 618.37 339.62 616.72Z" fill="rgba(0,0,0,0.02)" stroke="rgba(0,0,0,0.55)" stroke-width="0.5"/>
<path d="M341.24 617.93C342.15 616.36 344.99 616.94 347.06 616.54C349.13 616.14 351.41 616.52 353.64 615.53C355.87 614.54 358.28 611.9 360.44 610.59C362.6 609.28 365.04 608.11 366.59 607.67C368.14 607.23 369.3 606.53 369.74 607.95C370.18 609.38 369.46 613.41 369.22 616.2C368.98 618.98 369 621.94 368.3 624.65C367.59 627.36 369.44 631.12 364.99 632.47C360.54 633.81 345.48 633.82 341.58 632.74C337.69 631.66 341.66 628.46 341.6 625.99C341.54 623.52 340.33 619.51 341.24 617.93Z" fill="rgba(0,0,0,0.02)" stroke="rgba(0,0,0,0.55)" stroke-width="0.5"/>
<path d="M343.74 617.84C344.65 616.51 346.8 617.47 348.51 617.17C350.21 616.86 351.93 616.93 353.95 616C355.97 615.07 358.7 612.73 360.62 611.59C362.55 610.44 364.31 609.44 365.51 609.11C366.7 608.78 367.42 608.43 367.78 609.6C368.15 610.78 367.89 613.76 367.71 616.17C367.52 618.58 367.14 621.54 366.66 624.05C366.18 626.55 368.73 629.93 364.82 631.2C360.9 632.47 346.79 632.67 343.16 631.66C339.54 630.65 342.99 627.43 343.08 625.13C343.18 622.82 342.84 619.16 343.74 617.84Z" fill="rgba(0,0,0,0.02)" stroke="rgba(0,0,0,0.55)" stroke-width="0.5"/>
<path d="M344.85 618.08C345.61 616.8 348.04 618.12 349.6 617.77C351.15 617.42 352.5 616.77 354.2 616C355.91 615.23 358.07 614.14 359.82 613.15C361.56 612.16 363.56 610.36 364.68 610.05C365.8 609.75 366.19 610.18 366.54 611.32C366.9 612.45 366.94 614.71 366.79 616.84C366.64 618.98 366.18 621.86 365.67 624.11C365.15 626.37 367.1 629.32 363.69 630.39C360.28 631.46 348.31 631.35 345.2 630.54C342.09 629.72 345.1 627.55 345.04 625.48C344.99 623.4 344.09 619.37 344.85 618.08Z" fill="rgba(0,0,0,0.02)" stroke="rgba(0,0,0,0.55)" stroke-width="0.5"/>
<path d="M346.63 618.49C347.4 617.43 349.36 618.1 350.69 617.93C352.02 617.76 353.11 618.05 354.59 617.48C356.08 616.92 358.09 615.4 359.59 614.54C361.08 613.68 362.56 612.71 363.57 612.31C364.59 611.92 365.38 611.27 365.66 612.17C365.93 613.06 365.33 615.77 365.21 617.7C365.09 619.64 365.37 621.85 364.95 623.78C364.53 625.71 365.69 628.33 362.69 629.27C359.68 630.2 349.66 630.24 346.9 629.41C344.13 628.58 346.15 626.12 346.1 624.3C346.06 622.48 345.87 619.56 346.63 618.49Z" fill="rgba(0,0,0,0.02)" stroke="rgba(0,0,0,0.55)" stroke-width="0.5"/>
<path d="M348.52 619.64C349.03 618.69 350.01 618.95 351.23 618.72C352.45 618.48 354.53 618.85 355.84 618.23C357.15 617.6 357.87 615.69 359.11 614.97C360.34 614.24 362.34 614.13 363.24 613.88C364.14 613.63 364.21 612.73 364.49 613.44C364.78 614.15 364.99 616.5 364.94 618.13C364.88 619.76 364.55 621.62 364.17 623.2C363.78 624.79 365.16 626.84 362.64 627.63C360.11 628.41 351.42 628.45 349 627.91C346.59 627.37 348.22 625.78 348.14 624.4C348.06 623.02 348 620.58 348.52 619.64Z" fill="rgba(0,0,0,0.02)" stroke="rgba(0,0,0,0.55)" stroke-width="0.5"/>
<path d="M350.55 619.31C350.98 618.55 351.59 619.3 352.5 619.13C353.41 618.97 354.96 618.81 356 618.32C357.05 617.84 357.75 616.72 358.78 616.21C359.8 615.7 361.47 615.42 362.15 615.27C362.83 615.13 362.63 614.82 362.87 615.33C363.11 615.85 363.55 617.19 363.59 618.37C363.62 619.55 363.38 621 363.05 622.41C362.73 623.83 363.71 626.11 361.63 626.84C359.54 627.57 352.48 627.31 350.53 626.78C348.58 626.25 349.92 624.92 349.93 623.67C349.93 622.43 350.12 620.07 350.55 619.31Z" fill="rgba(0,0,0,0.02)" stroke="rgba(0,0,0,0.55)" stroke-width="0.5"/>
<path d="M351.88 620.2C352.21 619.7 353.21 619.84 353.89 619.67C354.57 619.51 355.12 619.63 355.96 619.24C356.79 618.85 357.99 617.75 358.89 617.32C359.78 616.88 360.78 616.79 361.32 616.63C361.85 616.46 361.97 615.93 362.1 616.34C362.24 616.74 362.25 618.02 362.12 619.04C361.98 620.05 361.59 621.35 361.3 622.44C361 623.53 361.87 625.08 360.34 625.56C358.8 626.03 353.5 625.77 352.1 625.3C350.7 624.82 351.96 623.56 351.92 622.71C351.88 621.86 351.55 620.71 351.88 620.2Z" fill="rgba(0,0,0,0.02)" stroke="rgba(0,0,0,0.55)" stroke-width="0.5"/>
<path d="M353.91 620.74C354.24 620.28 354.62 619.97 355.11 619.79C355.61 619.62 356.22 619.92 356.88 619.68C357.55 619.43 358.48 618.56 359.09 618.34C359.7 618.11 360.19 618.31 360.54 618.32C360.89 618.32 361.17 617.99 361.19 618.35C361.21 618.72 360.75 619.78 360.65 620.5C360.56 621.22 360.66 622.08 360.61 622.68C360.57 623.28 361.47 623.72 360.38 624.11C359.29 624.49 355.28 625.24 354.07 624.97C352.86 624.7 353.15 623.22 353.13 622.51C353.1 621.81 353.58 621.19 353.91 620.74Z" fill="rgba(0,0,0,0.02)" stroke="rgba(0,0,0,0.55)" stroke-width="0.5"/>
<path d="M355.66 620.53C355.95 620.25 356.33 620.59 356.66 620.52C356.99 620.45 357.36 620.17 357.64 620.12C357.93 620.08 358.16 620.42 358.39 620.24C358.62 620.06 358.78 619.22 359.02 619.05C359.25 618.89 359.73 619.04 359.78 619.24C359.83 619.45 359.4 619.77 359.31 620.29C359.22 620.81 359.23 621.81 359.23 622.37C359.24 622.93 360.04 623.45 359.36 623.66C358.67 623.87 355.87 623.85 355.14 623.61C354.4 623.37 354.86 622.74 354.95 622.23C355.04 621.71 355.38 620.82 355.66 620.53Z" fill="rgba(0,0,0,0.02)" stroke="rgba(0,0,0,0.55)" stroke-width="0.5"/>
<path d="M338 618V635M340.5 617.5V635.5M343 617.5V635.5M345.5 617V636M348 616.5V636M350.5 616V636" fill="none" stroke="rgba(0,0,0,0.45)" stroke-width="0.6" stroke-linecap="round" stroke-linejoin="round"/>
</g>
<g filter="url(#b2)">
<path d="M72.7 616.5C71.6 622 72 629 74.4 636" fill="none" stroke="rgba(0,0,0,0.9)" stroke-width="2.8" stroke-linecap="round" stroke-linejoin="round"/>
<path d="M101.3 603.5C102.6 609 101 616 97.2 623.5" fill="none" stroke="rgba(0,0,0,0.8)" stroke-width="2.6" stroke-linecap="round" stroke-linejoin="round"/>
<path d="M75 635C80 637.5 90 637.5 95 634.5" fill="none" stroke="rgba(0,0,0,0.55)" stroke-width="1.8" stroke-linecap="round" stroke-linejoin="round"/>
<path d="M79 613.5C86 611.5 93 608 98.5 604" fill="none" stroke="rgba(0,0,0,0.5)" stroke-width="1.6" stroke-linecap="round" stroke-linejoin="round"/>
<ellipse cx="87" cy="597" rx="7.5" ry="3.2" fill="rgba(0,0,0,0.28)" transform="rotate(-25 87 597)"/>
<ellipse cx="86.5" cy="596.8" rx="1.8" ry="1.2" fill="rgba(0,0,0,0.6)" transform="rotate(-20 86.5 596.8)"/>
<ellipse cx="94.5" cy="594.5" rx="1.6" ry="1.2" fill="rgba(0,0,0,0.55)" transform="rotate(-20 94.5 594.5)"/>
<ellipse cx="90.3" cy="600.2" rx="1.5" ry="1" fill="rgba(0,0,0,0.55)" transform="rotate(-20 90.3 600.2)"/>
<ellipse cx="76.5" cy="606" rx="1.8" ry="1.1" fill="rgba(0,0,0,0.5)" transform="rotate(-20 76.5 606)"/>
<ellipse cx="91" cy="614" rx="4" ry="2.2" fill="rgba(0,0,0,0.3)" transform="rotate(-35 91 614)"/>
<ellipse cx="79" cy="620" rx="2.5" ry="5" fill="rgba(0,0,0,0.25)" transform="rotate(10 79 620)"/>
<ellipse cx="93" cy="627" rx="2.5" ry="5" fill="rgba(0,0,0,0.3)" transform="rotate(20 93 627)"/>
<ellipse cx="180.5" cy="622" rx="6.5" ry="11" fill="rgba(0,0,0,0.22)" transform="rotate(22 180.5 622)"/>
<ellipse cx="183.3" cy="615.5" rx="3.3" ry="4.6" fill="rgba(0,0,0,0.8)" transform="rotate(15 183.3 615.5)"/>
<ellipse cx="178.3" cy="627" rx="2.3" ry="6.5" fill="rgba(0,0,0,0.7)" transform="rotate(20 178.3 627)"/>
<ellipse cx="181" cy="634.5" rx="2.6" ry="2" fill="rgba(0,0,0,0.7)" transform="rotate(0 181 634.5)"/>
<ellipse cx="188" cy="617" rx="1.6" ry="6" fill="rgba(0,0,0,0.4)" transform="rotate(10 188 617)"/>
<ellipse cx="172.5" cy="627" rx="1.6" ry="5" fill="rgba(0,0,0,0.4)" transform="rotate(-15 172.5 627)"/>
<ellipse cx="268" cy="620" rx="9" ry="11" fill="rgba(0,0,0,0.2)" transform="rotate(25 268 620)"/>
<path d="M267.5 611.5C270.5 609.5 274.5 610.5 276.3 614C277.5 617 276 620.5 273.5 623" fill="none" stroke="rgba(0,0,0,0.8)" stroke-width="3" stroke-linecap="round" stroke-linejoin="round"/>
<ellipse cx="263.5" cy="625" rx="4.2" ry="2.6" fill="rgba(0,0,0,0.7)" transform="rotate(20 263.5 625)"/>
<ellipse cx="253" cy="628" rx="2.6" ry="2" fill="rgba(0,0,0,0.65)" transform="rotate(40 253 628)"/>
<path d="M261 636.8C262.5 633.2 268.5 633.2 270.2 636.8" fill="none" stroke="rgba(0,0,0,0.95)" stroke-width="2.2" stroke-linecap="round" stroke-linejoin="round"/>
<ellipse cx="279.5" cy="615" rx="1.5" ry="8" fill="rgba(0,0,0,0.35)" transform="rotate(5 279.5 615)"/>
<ellipse cx="270" cy="629.5" rx="3.5" ry="2" fill="rgba(0,0,0,0.35)" transform="rotate(0 270 629.5)"/>
<ellipse cx="358" cy="621" rx="9" ry="11" fill="rgba(0,0,0,0.2)" transform="rotate(20 358 621)"/>
<path d="M355 613C358.5 611 362.5 612.5 364.2 616C365.5 619.5 364.5 623 362 626" fill="none" stroke="rgba(0,0,0,0.8)" stroke-width="3" stroke-linecap="round" stroke-linejoin="round"/>
<ellipse cx="354.5" cy="622" rx="2" ry="7.5" fill="rgba(0,0,0,0.6)" transform="rotate(-8 354.5 622)"/>
<ellipse cx="357" cy="630.5" rx="5" ry="2.2" fill="rgba(0,0,0,0.55)" transform="rotate(25 357 630.5)"/>
<ellipse cx="367.5" cy="615" rx="1.5" ry="8" fill="rgba(0,0,0,0.35)" transform="rotate(8 367.5 615)"/>
<ellipse cx="349" cy="624" rx="1.5" ry="5" fill="rgba(0,0,0,0.3)" transform="rotate(-30 349 624)"/>
</g>
<g filter="url(#b1)">
<ellipse cx="83.8" cy="625.5" rx="2.2" ry="1.5" fill="rgba(255,255,255,0.75)" transform="rotate(-30 83.8 625.5)"/>
<ellipse cx="88.5" cy="619" rx="1.5" ry="1" fill="rgba(255,255,255,0.5)" transform="rotate(-30 88.5 619)"/>
<ellipse cx="183.1" cy="617.2" rx="1.25" ry="1.6" fill="#fff" transform="rotate(15 183.1 617.2)"/>
<ellipse cx="175.6" cy="629.3" rx="1.2" ry="1.4" fill="#fff" transform="rotate(0 175.6 629.3)"/>
<ellipse cx="179.3" cy="623.5" rx="0.8" ry="2.2" fill="rgba(255,255,255,0.8)" transform="rotate(25 179.3 623.5)"/>
<ellipse cx="272.2" cy="616.6" rx="1.4" ry="2.2" fill="#fff" transform="rotate(10 272.2 616.6)"/>
<ellipse cx="270" cy="622" rx="1.3" ry="1.3" fill="#fff" transform="rotate(0 270 622)"/>
<ellipse cx="256.5" cy="621.5" rx="1.3" ry="1.6" fill="rgba(255,255,255,0.8)" transform="rotate(0 256.5 621.5)"/>
<ellipse cx="265.6" cy="636.8" rx="1.7" ry="0.9" fill="#fff" transform="rotate(0 265.6 636.8)"/>
<ellipse cx="359.3" cy="619.4" rx="0.9" ry="2.2" fill="#fff" transform="rotate(25 359.3 619.4)"/>
<ellipse cx="356.6" cy="630.3" rx="1.6" ry="0.8" fill="rgba(255,255,255,0.8)" transform="rotate(20 356.6 630.3)"/>
</g>
<path d="M66.6 606.8C66.48 605.07 66.33 602.78 66.8 600.2C67.27 597.62 68.15 594.07 69.4 591.3C70.65 588.53 72.18 585.8 74.3 583.6C76.42 581.4 79.33 579.43 82.1 578.1C84.87 576.77 88.33 576 90.9 575.6C93.47 575.2 95.58 575.18 97.5 575.7C99.42 576.22 101.2 577.38 102.4 578.7C103.6 580.02 104.32 581.77 104.7 583.6C105.08 585.43 105.08 587.58 104.7 589.7C104.32 591.82 103.6 594.18 102.4 596.3C101.2 598.42 99.6 600.47 97.5 602.4C95.4 604.33 92.37 606.28 89.8 607.9C87.23 609.52 84.5 611.03 82.1 612.1C79.7 613.17 77.33 614.05 75.4 614.3C73.47 614.55 71.82 614.22 70.5 613.6C69.18 612.98 68.15 611.73 67.5 610.6C66.85 609.47 66.72 608.53 66.6 606.8Z" stroke="#111" stroke-width="1.1" fill="none"/>
<path d="M155.5 606.1C155.38 604.37 155.23 602.08 155.7 599.5C156.17 596.92 157.05 593.37 158.3 590.6C159.55 587.83 161.08 585.1 163.2 582.9C165.32 580.7 168.23 578.73 171 577.4C173.77 576.07 177.23 575.3 179.8 574.9C182.37 574.5 184.48 574.48 186.4 575C188.32 575.52 190.1 576.68 191.3 578C192.5 579.32 193.22 581.07 193.6 582.9C193.98 584.73 193.98 586.88 193.6 589C193.22 591.12 192.5 593.48 191.3 595.6C190.1 597.72 188.5 599.77 186.4 601.7C184.3 603.63 181.27 605.58 178.7 607.2C176.13 608.82 173.4 610.33 171 611.4C168.6 612.47 166.23 613.35 164.3 613.6C162.37 613.85 160.72 613.52 159.4 612.9C158.08 612.28 157.05 611.03 156.4 609.9C155.75 608.77 155.62 607.83 155.5 606.1Z" stroke="#111" stroke-width="1.1" fill="none"/>
<path d="M244.2 605.1C244.08 603.37 243.93 601.08 244.4 598.5C244.87 595.92 245.75 592.37 247 589.6C248.25 586.83 249.78 584.1 251.9 581.9C254.02 579.7 256.93 577.73 259.7 576.4C262.47 575.07 265.93 574.3 268.5 573.9C271.07 573.5 273.18 573.48 275.1 574C277.02 574.52 278.8 575.68 280 577C281.2 578.32 281.92 580.07 282.3 581.9C282.68 583.73 282.68 585.88 282.3 588C281.92 590.12 281.2 592.48 280 594.6C278.8 596.72 277.2 598.77 275.1 600.7C273 602.63 269.97 604.58 267.4 606.2C264.83 607.82 262.1 609.33 259.7 610.4C257.3 611.47 254.93 612.35 253 612.6C251.07 612.85 249.42 612.52 248.1 611.9C246.78 611.28 245.75 610.03 245.1 608.9C244.45 607.77 244.32 606.83 244.2 605.1Z" stroke="#111" stroke-width="1.1" fill="none"/>
<path d="M333.8 606.8C333.68 605.07 333.53 602.78 334 600.2C334.47 597.62 335.35 594.07 336.6 591.3C337.85 588.53 339.38 585.8 341.5 583.6C343.62 581.4 346.53 579.43 349.3 578.1C352.07 576.77 355.53 576 358.1 575.6C360.67 575.2 362.78 575.18 364.7 575.7C366.62 576.22 368.4 577.38 369.6 578.7C370.8 580.02 371.52 581.77 371.9 583.6C372.28 585.43 372.28 587.58 371.9 589.7C371.52 591.82 370.8 594.18 369.6 596.3C368.4 598.42 366.8 600.47 364.7 602.4C362.6 604.33 359.57 606.28 357 607.9C354.43 609.52 351.7 611.03 349.3 612.1C346.9 613.17 344.53 614.05 342.6 614.3C340.67 614.55 339.02 614.22 337.7 613.6C336.38 612.98 335.35 611.73 334.7 610.6C334.05 609.47 333.92 608.53 333.8 606.8Z" stroke="#111" stroke-width="1.1" fill="none"/>
<line x1="20.2" y1="552.6" x2="20.2" y2="580.4" stroke="#000" stroke-width="1"/>
<line x1="20.2" y1="609.2" x2="20.2" y2="636.2" stroke="#000" stroke-width="1"/>
<text x="0" y="0" font-size="9.2" font-weight="bold" text-anchor="middle" fill="#111" stroke="#111" stroke-width="0.2" transform="translate(21.3 595) rotate(-90) scale(1 1.06)">Tet<tspan font-size="6.4" dy="-3.8">H60</tspan><tspan dy="3.8" font-size="0.1">&#8203;</tspan></text>
<line x1="31" y1="647.5" x2="196" y2="647.5" stroke="#000" stroke-width="1"/>
<line x1="218" y1="647.5" x2="382.8" y2="647.5" stroke="#000" stroke-width="1"/>
<text x="0" y="0" font-size="9.2" font-weight="bold" text-anchor="middle" fill="#111" stroke="#111" stroke-width="0.2" transform="translate(207.3 651.2) scale(1 1.06)">CD8</text>
</g>
</svg></body></html>
